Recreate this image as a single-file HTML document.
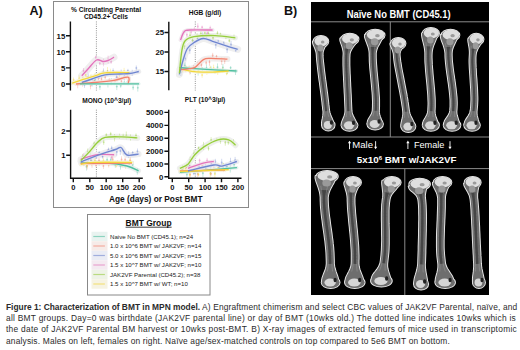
<!DOCTYPE html>
<html><head><meta charset="utf-8">
<style>
html,body{margin:0;padding:0;background:#fff;}
body{width:520px;height:350px;position:relative;overflow:hidden;font-family:"Liberation Sans",sans-serif;}
#cap{position:absolute;left:6px;top:302px;width:520px;font-size:8.4px;line-height:11.23px;color:#2a2a2a;white-space:nowrap;}
#cap div{height:11.23px;}
svg{position:absolute;left:0;top:0;}
</style></head>
<body>
<svg width="520" height="350" viewBox="0 0 520 350" font-family="Liberation Sans, sans-serif">
  <defs>
    <filter id="bl" x="-20%" y="-5%" width="140%" height="110%"><feGaussianBlur stdDeviation="0.45"/></filter>
    <filter id="bl2" x="-20%" y="-20%" width="140%" height="140%"><feGaussianBlur stdDeviation="0.3"/></filter>
  </defs>
  <!-- labels -->
  <text x="29.5" y="14.8" font-size="12.6" font-weight="bold" fill="#111">A)</text>
  <text x="284" y="14.8" font-size="12.6" font-weight="bold" fill="#111">B)</text>
  <!-- panel A box -->
  <rect x="53.5" y="1.5" width="195" height="206" fill="none" stroke="#8a8a8a" stroke-width="1"/>

  <!-- dotted lines -->
  <g stroke="#555" stroke-width="0.7" stroke-dasharray="0.9 1.3" fill="none">
    <path d="M96.4 21.5V90.5"/>
    <path d="M195.3 21.5V90.5"/>
    <path d="M96.4 109.7V178"/>
    <path d="M195.3 109.7V178"/>
  </g>

  <g filter="url(#bl2)">
<path d="M81.8 75.7 C82.8 74.6 85.5 71.6 88.0 69.0 C90.5 66.4 94.0 61.2 96.5 60.0 C99.0 58.8 101.1 61.4 103.0 61.5 C104.9 61.6 106.2 61.2 108.0 60.5 C109.8 59.8 113.0 57.8 114.0 57.2" fill="none" stroke="#efefef" stroke-width="7" stroke-linecap="round" stroke-linejoin="round"/>
<path d="M72.3 83.3 C73.9 82.7 77.8 81.1 81.8 79.8 C85.8 78.5 92.6 76.6 96.5 75.4 C100.4 74.2 99.5 73.3 105.0 72.8 C110.5 72.3 125.4 72.6 129.5 72.6" fill="none" stroke="#efefef" stroke-width="4" stroke-linecap="round" stroke-linejoin="round"/>
<path d="M81.8 82.5 C83.5 81.9 88.1 80.3 92.0 79.0 C95.9 77.7 100.3 75.6 105.0 74.8 C109.7 74.0 115.9 74.2 120.0 74.0 C124.1 73.8 126.4 73.9 129.5 73.5 C132.6 73.1 137.2 71.8 138.8 71.5" fill="none" stroke="#efefef" stroke-width="5" stroke-linecap="round" stroke-linejoin="round"/>
<path d="M76.0 84.0 C79.2 83.8 88.7 83.1 95.0 82.5 C101.3 81.9 108.5 81.2 114.0 80.3 C119.5 79.4 125.6 76.7 128.0 77.2 C130.4 77.7 128.2 82.5 128.2 83.5" fill="none" stroke="#efefef" stroke-width="4" stroke-linecap="round" stroke-linejoin="round"/>
<path d="M80.0 83.8 L139.0 83.8" fill="none" stroke="#efefef" stroke-width="2.5" stroke-linecap="round" stroke-linejoin="round"/>
<path d="M179.4 67.6 C181.9 67.8 184.8 68.1 194.3 68.7 C203.8 69.3 229.6 70.6 236.6 71.0" fill="none" stroke="#efefef" stroke-width="3" stroke-linecap="round" stroke-linejoin="round"/>
<path d="M179.4 68.7 C181.9 69.2 188.8 71.1 194.3 71.7 C199.8 72.3 206.9 72.2 212.6 72.1 C218.3 72.0 225.9 71.2 228.6 71.0" fill="none" stroke="#efefef" stroke-width="3" stroke-linecap="round" stroke-linejoin="round"/>
<path d="M179.4 69.8 C181.1 69.6 187.0 69.2 189.7 68.7 C192.4 68.2 193.1 68.6 195.4 67.1 C197.7 65.6 200.9 61.0 203.4 59.6 C205.9 58.2 206.3 58.5 210.3 58.4 C214.3 58.3 224.6 59.0 227.4 59.1" fill="none" stroke="#efefef" stroke-width="6" stroke-linecap="round" stroke-linejoin="round"/>
<path d="M179.4 74.4 C180.0 72.1 181.6 65.0 182.9 60.7 C184.2 56.4 185.5 51.5 187.4 48.5 C189.3 45.5 191.6 44.1 194.3 42.4 C197.0 40.7 200.4 38.7 203.4 38.5 C206.4 38.3 208.8 40.1 212.6 41.3 C216.4 42.5 222.1 44.6 226.3 45.9 C230.5 47.2 235.8 48.7 237.7 49.3" fill="none" stroke="#efefef" stroke-width="7" stroke-linecap="round" stroke-linejoin="round"/>
<path d="M179.4 73.3 C179.8 69.7 180.8 57.0 181.7 51.6 C182.6 46.2 182.9 43.5 185.0 41.0 C187.1 38.5 189.0 37.6 194.0 36.7 C199.0 35.8 208.1 35.4 215.0 35.6 C221.9 35.8 232.0 37.5 235.4 37.9" fill="none" stroke="#efefef" stroke-width="5" stroke-linecap="round" stroke-linejoin="round"/>
<path d="M180.5 40.0 C181.1 38.7 182.5 33.7 184.0 32.0 C185.5 30.3 184.9 30.3 189.7 30.0 C194.5 29.7 208.8 30.0 212.6 30.0" fill="none" stroke="#efefef" stroke-width="4" stroke-linecap="round" stroke-linejoin="round"/>
<path d="M80.7 163.0 C85.0 163.0 98.7 162.5 106.4 163.0 C114.1 163.5 121.6 164.7 127.0 166.0 C132.4 167.3 136.7 170.1 138.6 170.9" fill="none" stroke="#efefef" stroke-width="5" stroke-linecap="round" stroke-linejoin="round"/>
<path d="M80.7 163.5 L132.0 163.0" fill="none" stroke="#efefef" stroke-width="4" stroke-linecap="round" stroke-linejoin="round"/>
<path d="M80.7 164.4 C82.8 164.1 85.0 162.7 93.6 162.4 C102.2 162.1 125.7 162.4 132.1 162.4" fill="none" stroke="#efefef" stroke-width="4" stroke-linecap="round" stroke-linejoin="round"/>
<path d="M80.7 159.3 C83.5 158.5 91.8 155.5 97.4 154.7 C103.0 153.9 111.3 154.7 114.1 154.7" fill="none" stroke="#efefef" stroke-width="6" stroke-linecap="round" stroke-linejoin="round"/>
<path d="M80.7 161.9 C83.5 160.8 91.6 157.5 97.4 155.4 C103.2 153.3 111.5 150.8 115.4 149.5 C119.3 148.2 119.1 146.6 121.0 147.5 C122.9 148.4 124.1 153.9 127.0 155.0 C129.9 156.1 136.7 154.2 138.6 154.1" fill="none" stroke="#efefef" stroke-width="6" stroke-linecap="round" stroke-linejoin="round"/>
<path d="M80.7 160.6 C82.0 159.3 85.6 155.9 88.4 152.9 C91.2 149.9 94.6 145.2 97.4 142.6 C100.2 140.0 101.0 138.3 105.1 137.4 C109.2 136.5 116.5 136.8 121.9 136.9 C127.3 137.0 134.7 137.7 137.3 137.9" fill="none" stroke="#efefef" stroke-width="6" stroke-linecap="round" stroke-linejoin="round"/>
<path d="M179.9 172.4 L236.9 167.7" fill="none" stroke="#efefef" stroke-width="3" stroke-linecap="round" stroke-linejoin="round"/>
<path d="M179.9 171.0 L225.0 170.0" fill="none" stroke="#efefef" stroke-width="3" stroke-linecap="round" stroke-linejoin="round"/>
<path d="M179.9 171.5 L228.7 169.6" fill="none" stroke="#efefef" stroke-width="3" stroke-linecap="round" stroke-linejoin="round"/>
<path d="M188.0 171.0 C192.3 170.0 208.1 165.8 213.8 165.0 C219.5 164.2 218.2 166.7 222.0 166.1 C225.8 165.5 234.4 162.3 236.9 161.5" fill="none" stroke="#efefef" stroke-width="5" stroke-linecap="round" stroke-linejoin="round"/>
<path d="M188.0 168.3 C190.7 167.4 200.0 164.0 204.3 162.9 C208.6 161.8 212.2 161.7 213.8 161.5" fill="none" stroke="#efefef" stroke-width="4" stroke-linecap="round" stroke-linejoin="round"/>
<path d="M179.9 168.3 C181.2 167.6 185.5 166.5 188.0 164.2 C190.5 161.9 192.1 157.6 194.8 154.7 C197.5 151.8 200.5 149.1 204.3 146.6 C208.2 144.1 213.8 140.9 217.9 139.8 C222.0 138.7 225.8 138.9 228.7 139.8 C231.6 140.7 234.4 144.3 235.5 145.2" fill="none" stroke="#efefef" stroke-width="6" stroke-linecap="round" stroke-linejoin="round"/>
<path d="M83.5 68.0V74.2" stroke="#e274bb" stroke-width="0.8" opacity="0.4"/>
<circle cx="83.5" cy="71.1" r="1" fill="#e274bb" opacity="0.4"/>
<path d="M87.0 68.0V72.8" stroke="#e274bb" stroke-width="0.8" opacity="0.4"/>
<circle cx="87.0" cy="70.4" r="1" fill="#e274bb" opacity="0.4"/>
<path d="M91.0 64.3V67.5" stroke="#e274bb" stroke-width="0.8" opacity="0.4"/>
<circle cx="91.0" cy="65.9" r="1" fill="#e274bb" opacity="0.4"/>
<path d="M95.8 55.6V59.1" stroke="#e274bb" stroke-width="0.8" opacity="0.4"/>
<circle cx="95.8" cy="57.3" r="1" fill="#e274bb" opacity="0.4"/>
<path d="M99.8 61.6V65.2" stroke="#e274bb" stroke-width="0.8" opacity="0.4"/>
<circle cx="99.8" cy="63.4" r="1" fill="#e274bb" opacity="0.4"/>
<path d="M103.4 58.6V66.3" stroke="#e274bb" stroke-width="0.8" opacity="0.4"/>
<circle cx="103.4" cy="62.4" r="1" fill="#e274bb" opacity="0.4"/>
<path d="M108.1 55.7V63.5" stroke="#e274bb" stroke-width="0.8" opacity="0.4"/>
<circle cx="108.1" cy="59.6" r="1" fill="#e274bb" opacity="0.4"/>
<path d="M111.1 59.4V63.9" stroke="#e274bb" stroke-width="0.8" opacity="0.4"/>
<circle cx="111.1" cy="61.7" r="1" fill="#e274bb" opacity="0.4"/>
<path d="M73.6 77.5V82.0" stroke="#f2d63a" stroke-width="0.8" opacity="0.4"/>
<circle cx="73.6" cy="79.8" r="1" fill="#f2d63a" opacity="0.4"/>
<path d="M79.1 75.3V81.2" stroke="#f2d63a" stroke-width="0.8" opacity="0.4"/>
<circle cx="79.1" cy="78.3" r="1" fill="#f2d63a" opacity="0.4"/>
<path d="M82.8 75.6V81.4" stroke="#f2d63a" stroke-width="0.8" opacity="0.4"/>
<circle cx="82.8" cy="78.5" r="1" fill="#f2d63a" opacity="0.4"/>
<path d="M85.7 73.1V77.1" stroke="#f2d63a" stroke-width="0.8" opacity="0.4"/>
<circle cx="85.7" cy="75.1" r="1" fill="#f2d63a" opacity="0.4"/>
<path d="M91.0 74.2V78.7" stroke="#f2d63a" stroke-width="0.8" opacity="0.4"/>
<circle cx="91.0" cy="76.5" r="1" fill="#f2d63a" opacity="0.4"/>
<path d="M94.9 73.2V77.7" stroke="#f2d63a" stroke-width="0.8" opacity="0.4"/>
<circle cx="94.9" cy="75.5" r="1" fill="#f2d63a" opacity="0.4"/>
<path d="M99.4 74.0V78.2" stroke="#f2d63a" stroke-width="0.8" opacity="0.4"/>
<circle cx="99.4" cy="76.1" r="1" fill="#f2d63a" opacity="0.4"/>
<path d="M103.1 69.9V77.3" stroke="#f2d63a" stroke-width="0.8" opacity="0.4"/>
<circle cx="103.1" cy="73.6" r="1" fill="#f2d63a" opacity="0.4"/>
<path d="M107.5 67.1V75.0" stroke="#f2d63a" stroke-width="0.8" opacity="0.4"/>
<circle cx="107.5" cy="71.1" r="1" fill="#f2d63a" opacity="0.4"/>
<path d="M110.4 68.7V75.5" stroke="#f2d63a" stroke-width="0.8" opacity="0.4"/>
<circle cx="110.4" cy="72.1" r="1" fill="#f2d63a" opacity="0.4"/>
<path d="M114.5 71.0V74.2" stroke="#f2d63a" stroke-width="0.8" opacity="0.4"/>
<circle cx="114.5" cy="72.6" r="1" fill="#f2d63a" opacity="0.4"/>
<path d="M119.6 71.9V77.7" stroke="#f2d63a" stroke-width="0.8" opacity="0.4"/>
<circle cx="119.6" cy="74.8" r="1" fill="#f2d63a" opacity="0.4"/>
<path d="M124.1 67.9V74.4" stroke="#f2d63a" stroke-width="0.8" opacity="0.4"/>
<circle cx="124.1" cy="71.2" r="1" fill="#f2d63a" opacity="0.4"/>
<path d="M127.6 70.6V75.9" stroke="#f2d63a" stroke-width="0.8" opacity="0.4"/>
<circle cx="127.6" cy="73.3" r="1" fill="#f2d63a" opacity="0.4"/>
<path d="M84.5 82.4V87.8" stroke="#6f86cf" stroke-width="0.8" opacity="0.4"/>
<circle cx="84.5" cy="85.1" r="1" fill="#6f86cf" opacity="0.4"/>
<path d="M88.2 73.5V80.0" stroke="#6f86cf" stroke-width="0.8" opacity="0.4"/>
<circle cx="88.2" cy="76.8" r="1" fill="#6f86cf" opacity="0.4"/>
<path d="M92.3 79.3V86.4" stroke="#6f86cf" stroke-width="0.8" opacity="0.4"/>
<circle cx="92.3" cy="82.9" r="1" fill="#6f86cf" opacity="0.4"/>
<path d="M95.6 73.7V80.1" stroke="#6f86cf" stroke-width="0.8" opacity="0.4"/>
<circle cx="95.6" cy="76.9" r="1" fill="#6f86cf" opacity="0.4"/>
<path d="M99.2 74.5V78.3" stroke="#6f86cf" stroke-width="0.8" opacity="0.4"/>
<circle cx="99.2" cy="76.4" r="1" fill="#6f86cf" opacity="0.4"/>
<path d="M103.4 68.4V75.2" stroke="#6f86cf" stroke-width="0.8" opacity="0.4"/>
<circle cx="103.4" cy="71.8" r="1" fill="#6f86cf" opacity="0.4"/>
<path d="M107.5 70.2V75.1" stroke="#6f86cf" stroke-width="0.8" opacity="0.4"/>
<circle cx="107.5" cy="72.6" r="1" fill="#6f86cf" opacity="0.4"/>
<path d="M113.1 68.4V73.6" stroke="#6f86cf" stroke-width="0.8" opacity="0.4"/>
<circle cx="113.1" cy="71.0" r="1" fill="#6f86cf" opacity="0.4"/>
<path d="M116.5 73.7V80.8" stroke="#6f86cf" stroke-width="0.8" opacity="0.4"/>
<circle cx="116.5" cy="77.3" r="1" fill="#6f86cf" opacity="0.4"/>
<path d="M121.2 69.6V74.7" stroke="#6f86cf" stroke-width="0.8" opacity="0.4"/>
<circle cx="121.2" cy="72.2" r="1" fill="#6f86cf" opacity="0.4"/>
<path d="M124.3 73.0V80.7" stroke="#6f86cf" stroke-width="0.8" opacity="0.4"/>
<circle cx="124.3" cy="76.8" r="1" fill="#6f86cf" opacity="0.4"/>
<path d="M127.9 68.9V73.1" stroke="#6f86cf" stroke-width="0.8" opacity="0.4"/>
<circle cx="127.9" cy="71.0" r="1" fill="#6f86cf" opacity="0.4"/>
<path d="M132.2 69.8V75.8" stroke="#6f86cf" stroke-width="0.8" opacity="0.4"/>
<circle cx="132.2" cy="72.8" r="1" fill="#6f86cf" opacity="0.4"/>
<path d="M136.3 65.5V70.6" stroke="#6f86cf" stroke-width="0.8" opacity="0.4"/>
<circle cx="136.3" cy="68.1" r="1" fill="#6f86cf" opacity="0.4"/>
<path d="M77.7 80.5V88.3" stroke="#f0826e" stroke-width="0.8" opacity="0.4"/>
<circle cx="77.7" cy="84.4" r="1" fill="#f0826e" opacity="0.4"/>
<path d="M82.4 80.6V86.7" stroke="#f0826e" stroke-width="0.8" opacity="0.4"/>
<circle cx="82.4" cy="83.6" r="1" fill="#f0826e" opacity="0.4"/>
<path d="M86.4 75.9V83.4" stroke="#f0826e" stroke-width="0.8" opacity="0.4"/>
<circle cx="86.4" cy="79.6" r="1" fill="#f0826e" opacity="0.4"/>
<path d="M90.6 82.3V89.3" stroke="#f0826e" stroke-width="0.8" opacity="0.4"/>
<circle cx="90.6" cy="85.8" r="1" fill="#f0826e" opacity="0.4"/>
<path d="M93.9 80.0V83.5" stroke="#f0826e" stroke-width="0.8" opacity="0.4"/>
<circle cx="93.9" cy="81.8" r="1" fill="#f0826e" opacity="0.4"/>
<path d="M98.4 76.9V80.3" stroke="#f0826e" stroke-width="0.8" opacity="0.4"/>
<circle cx="98.4" cy="78.6" r="1" fill="#f0826e" opacity="0.4"/>
<path d="M101.5 76.7V81.4" stroke="#f0826e" stroke-width="0.8" opacity="0.4"/>
<circle cx="101.5" cy="79.0" r="1" fill="#f0826e" opacity="0.4"/>
<path d="M105.2 75.4V79.2" stroke="#f0826e" stroke-width="0.8" opacity="0.4"/>
<circle cx="105.2" cy="77.3" r="1" fill="#f0826e" opacity="0.4"/>
<path d="M109.3 78.2V81.3" stroke="#f0826e" stroke-width="0.8" opacity="0.4"/>
<circle cx="109.3" cy="79.7" r="1" fill="#f0826e" opacity="0.4"/>
<path d="M114.9 79.1V82.9" stroke="#f0826e" stroke-width="0.8" opacity="0.4"/>
<circle cx="114.9" cy="81.0" r="1" fill="#f0826e" opacity="0.4"/>
<path d="M117.7 75.9V80.7" stroke="#f0826e" stroke-width="0.8" opacity="0.4"/>
<circle cx="117.7" cy="78.3" r="1" fill="#f0826e" opacity="0.4"/>
<path d="M121.4 77.5V85.4" stroke="#f0826e" stroke-width="0.8" opacity="0.4"/>
<circle cx="121.4" cy="81.4" r="1" fill="#f0826e" opacity="0.4"/>
<path d="M126.1 75.8V79.2" stroke="#f0826e" stroke-width="0.8" opacity="0.4"/>
<circle cx="126.1" cy="77.5" r="1" fill="#f0826e" opacity="0.4"/>
<path d="M81.3 80.4V84.7" stroke="#4fbf9f" stroke-width="0.8" opacity="0.4"/>
<circle cx="81.3" cy="82.5" r="1" fill="#4fbf9f" opacity="0.4"/>
<path d="M87.0 79.5V82.6" stroke="#4fbf9f" stroke-width="0.8" opacity="0.4"/>
<circle cx="87.0" cy="81.1" r="1" fill="#4fbf9f" opacity="0.4"/>
<path d="M91.4 82.2V85.9" stroke="#4fbf9f" stroke-width="0.8" opacity="0.4"/>
<circle cx="91.4" cy="84.0" r="1" fill="#4fbf9f" opacity="0.4"/>
<path d="M94.8 77.2V82.8" stroke="#4fbf9f" stroke-width="0.8" opacity="0.4"/>
<circle cx="94.8" cy="80.0" r="1" fill="#4fbf9f" opacity="0.4"/>
<path d="M99.9 83.5V89.9" stroke="#4fbf9f" stroke-width="0.8" opacity="0.4"/>
<circle cx="99.9" cy="86.7" r="1" fill="#4fbf9f" opacity="0.4"/>
<path d="M102.7 80.8V84.7" stroke="#4fbf9f" stroke-width="0.8" opacity="0.4"/>
<circle cx="102.7" cy="82.7" r="1" fill="#4fbf9f" opacity="0.4"/>
<path d="M107.9 80.6V87.5" stroke="#4fbf9f" stroke-width="0.8" opacity="0.4"/>
<circle cx="107.9" cy="84.1" r="1" fill="#4fbf9f" opacity="0.4"/>
<path d="M111.3 78.1V85.1" stroke="#4fbf9f" stroke-width="0.8" opacity="0.4"/>
<circle cx="111.3" cy="81.6" r="1" fill="#4fbf9f" opacity="0.4"/>
<path d="M116.8 83.1V90.1" stroke="#4fbf9f" stroke-width="0.8" opacity="0.4"/>
<circle cx="116.8" cy="86.6" r="1" fill="#4fbf9f" opacity="0.4"/>
<path d="M120.7 83.7V87.8" stroke="#4fbf9f" stroke-width="0.8" opacity="0.4"/>
<circle cx="120.7" cy="85.7" r="1" fill="#4fbf9f" opacity="0.4"/>
<path d="M124.3 81.1V84.2" stroke="#4fbf9f" stroke-width="0.8" opacity="0.4"/>
<circle cx="124.3" cy="82.6" r="1" fill="#4fbf9f" opacity="0.4"/>
<path d="M127.5 79.9V84.2" stroke="#4fbf9f" stroke-width="0.8" opacity="0.4"/>
<circle cx="127.5" cy="82.0" r="1" fill="#4fbf9f" opacity="0.4"/>
<path d="M133.1 84.8V90.1" stroke="#4fbf9f" stroke-width="0.8" opacity="0.4"/>
<circle cx="133.1" cy="87.5" r="1" fill="#4fbf9f" opacity="0.4"/>
<path d="M137.8 83.8V91.6" stroke="#4fbf9f" stroke-width="0.8" opacity="0.4"/>
<circle cx="137.8" cy="87.7" r="1" fill="#4fbf9f" opacity="0.4"/>
<path d="M181.2 63.4V67.6" stroke="#4fbf9f" stroke-width="0.8" opacity="0.4"/>
<circle cx="181.2" cy="65.5" r="1" fill="#4fbf9f" opacity="0.4"/>
<path d="M184.9 62.6V68.7" stroke="#4fbf9f" stroke-width="0.8" opacity="0.4"/>
<circle cx="184.9" cy="65.6" r="1" fill="#4fbf9f" opacity="0.4"/>
<path d="M190.4 68.4V73.8" stroke="#4fbf9f" stroke-width="0.8" opacity="0.4"/>
<circle cx="190.4" cy="71.1" r="1" fill="#4fbf9f" opacity="0.4"/>
<path d="M194.0 69.4V72.8" stroke="#4fbf9f" stroke-width="0.8" opacity="0.4"/>
<circle cx="194.0" cy="71.1" r="1" fill="#4fbf9f" opacity="0.4"/>
<path d="M198.1 68.7V75.6" stroke="#4fbf9f" stroke-width="0.8" opacity="0.4"/>
<circle cx="198.1" cy="72.2" r="1" fill="#4fbf9f" opacity="0.4"/>
<path d="M202.4 67.0V70.9" stroke="#4fbf9f" stroke-width="0.8" opacity="0.4"/>
<circle cx="202.4" cy="69.0" r="1" fill="#4fbf9f" opacity="0.4"/>
<path d="M206.5 64.5V71.5" stroke="#4fbf9f" stroke-width="0.8" opacity="0.4"/>
<circle cx="206.5" cy="68.0" r="1" fill="#4fbf9f" opacity="0.4"/>
<path d="M211.0 66.3V71.3" stroke="#4fbf9f" stroke-width="0.8" opacity="0.4"/>
<circle cx="211.0" cy="68.8" r="1" fill="#4fbf9f" opacity="0.4"/>
<path d="M215.0 69.7V73.6" stroke="#4fbf9f" stroke-width="0.8" opacity="0.4"/>
<circle cx="215.0" cy="71.6" r="1" fill="#4fbf9f" opacity="0.4"/>
<path d="M217.5 63.4V70.9" stroke="#4fbf9f" stroke-width="0.8" opacity="0.4"/>
<circle cx="217.5" cy="67.2" r="1" fill="#4fbf9f" opacity="0.4"/>
<path d="M222.9 63.9V71.0" stroke="#4fbf9f" stroke-width="0.8" opacity="0.4"/>
<circle cx="222.9" cy="67.4" r="1" fill="#4fbf9f" opacity="0.4"/>
<path d="M227.3 69.4V74.1" stroke="#4fbf9f" stroke-width="0.8" opacity="0.4"/>
<circle cx="227.3" cy="71.8" r="1" fill="#4fbf9f" opacity="0.4"/>
<path d="M230.6 66.2V69.3" stroke="#4fbf9f" stroke-width="0.8" opacity="0.4"/>
<circle cx="230.6" cy="67.7" r="1" fill="#4fbf9f" opacity="0.4"/>
<path d="M235.5 69.3V75.0" stroke="#4fbf9f" stroke-width="0.8" opacity="0.4"/>
<circle cx="235.5" cy="72.1" r="1" fill="#4fbf9f" opacity="0.4"/>
<path d="M182.3 65.1V72.4" stroke="#f2d63a" stroke-width="0.8" opacity="0.4"/>
<circle cx="182.3" cy="68.8" r="1" fill="#f2d63a" opacity="0.4"/>
<path d="M186.2 65.6V69.9" stroke="#f2d63a" stroke-width="0.8" opacity="0.4"/>
<circle cx="186.2" cy="67.8" r="1" fill="#f2d63a" opacity="0.4"/>
<path d="M189.2 65.6V71.6" stroke="#f2d63a" stroke-width="0.8" opacity="0.4"/>
<circle cx="189.2" cy="68.6" r="1" fill="#f2d63a" opacity="0.4"/>
<path d="M193.3 69.0V72.7" stroke="#f2d63a" stroke-width="0.8" opacity="0.4"/>
<circle cx="193.3" cy="70.8" r="1" fill="#f2d63a" opacity="0.4"/>
<path d="M198.7 68.0V73.3" stroke="#f2d63a" stroke-width="0.8" opacity="0.4"/>
<circle cx="198.7" cy="70.6" r="1" fill="#f2d63a" opacity="0.4"/>
<path d="M202.1 72.6V77.7" stroke="#f2d63a" stroke-width="0.8" opacity="0.4"/>
<circle cx="202.1" cy="75.1" r="1" fill="#f2d63a" opacity="0.4"/>
<path d="M206.9 69.2V74.8" stroke="#f2d63a" stroke-width="0.8" opacity="0.4"/>
<circle cx="206.9" cy="72.0" r="1" fill="#f2d63a" opacity="0.4"/>
<path d="M210.2 65.6V70.8" stroke="#f2d63a" stroke-width="0.8" opacity="0.4"/>
<circle cx="210.2" cy="68.2" r="1" fill="#f2d63a" opacity="0.4"/>
<path d="M213.6 64.6V71.6" stroke="#f2d63a" stroke-width="0.8" opacity="0.4"/>
<circle cx="213.6" cy="68.1" r="1" fill="#f2d63a" opacity="0.4"/>
<path d="M217.7 68.2V74.9" stroke="#f2d63a" stroke-width="0.8" opacity="0.4"/>
<circle cx="217.7" cy="71.5" r="1" fill="#f2d63a" opacity="0.4"/>
<path d="M222.6 67.2V72.8" stroke="#f2d63a" stroke-width="0.8" opacity="0.4"/>
<circle cx="222.6" cy="70.0" r="1" fill="#f2d63a" opacity="0.4"/>
<path d="M226.7 71.6V75.2" stroke="#f2d63a" stroke-width="0.8" opacity="0.4"/>
<circle cx="226.7" cy="73.4" r="1" fill="#f2d63a" opacity="0.4"/>
<path d="M181.5 65.4V69.8" stroke="#f0826e" stroke-width="0.8" opacity="0.4"/>
<circle cx="181.5" cy="67.6" r="1" fill="#f0826e" opacity="0.4"/>
<path d="M185.9 66.3V72.1" stroke="#f0826e" stroke-width="0.8" opacity="0.4"/>
<circle cx="185.9" cy="69.2" r="1" fill="#f0826e" opacity="0.4"/>
<path d="M189.9 69.3V74.5" stroke="#f0826e" stroke-width="0.8" opacity="0.4"/>
<circle cx="189.9" cy="71.9" r="1" fill="#f0826e" opacity="0.4"/>
<path d="M193.6 64.9V70.4" stroke="#f0826e" stroke-width="0.8" opacity="0.4"/>
<circle cx="193.6" cy="67.6" r="1" fill="#f0826e" opacity="0.4"/>
<path d="M197.8 61.6V67.3" stroke="#f0826e" stroke-width="0.8" opacity="0.4"/>
<circle cx="197.8" cy="64.5" r="1" fill="#f0826e" opacity="0.4"/>
<path d="M201.4 61.8V68.3" stroke="#f0826e" stroke-width="0.8" opacity="0.4"/>
<circle cx="201.4" cy="65.0" r="1" fill="#f0826e" opacity="0.4"/>
<path d="M206.2 60.5V64.8" stroke="#f0826e" stroke-width="0.8" opacity="0.4"/>
<circle cx="206.2" cy="62.7" r="1" fill="#f0826e" opacity="0.4"/>
<path d="M209.5 58.5V65.7" stroke="#f0826e" stroke-width="0.8" opacity="0.4"/>
<circle cx="209.5" cy="62.1" r="1" fill="#f0826e" opacity="0.4"/>
<path d="M212.7 52.9V58.1" stroke="#f0826e" stroke-width="0.8" opacity="0.4"/>
<circle cx="212.7" cy="55.5" r="1" fill="#f0826e" opacity="0.4"/>
<path d="M216.5 54.9V58.3" stroke="#f0826e" stroke-width="0.8" opacity="0.4"/>
<circle cx="216.5" cy="56.6" r="1" fill="#f0826e" opacity="0.4"/>
<path d="M221.7 57.4V64.9" stroke="#f0826e" stroke-width="0.8" opacity="0.4"/>
<circle cx="221.7" cy="61.1" r="1" fill="#f0826e" opacity="0.4"/>
<path d="M224.7 57.6V63.9" stroke="#f0826e" stroke-width="0.8" opacity="0.4"/>
<circle cx="224.7" cy="60.7" r="1" fill="#f0826e" opacity="0.4"/>
<path d="M180.8 68.2V76.0" stroke="#6f86cf" stroke-width="0.8" opacity="0.4"/>
<circle cx="180.8" cy="72.1" r="1" fill="#6f86cf" opacity="0.4"/>
<path d="M185.1 55.9V60.9" stroke="#6f86cf" stroke-width="0.8" opacity="0.4"/>
<circle cx="185.1" cy="58.4" r="1" fill="#6f86cf" opacity="0.4"/>
<path d="M189.8 46.7V53.9" stroke="#6f86cf" stroke-width="0.8" opacity="0.4"/>
<circle cx="189.8" cy="50.3" r="1" fill="#6f86cf" opacity="0.4"/>
<path d="M193.3 39.9V45.5" stroke="#6f86cf" stroke-width="0.8" opacity="0.4"/>
<circle cx="193.3" cy="42.7" r="1" fill="#6f86cf" opacity="0.4"/>
<path d="M197.8 36.2V40.8" stroke="#6f86cf" stroke-width="0.8" opacity="0.4"/>
<circle cx="197.8" cy="38.5" r="1" fill="#6f86cf" opacity="0.4"/>
<path d="M202.7 32.1V37.8" stroke="#6f86cf" stroke-width="0.8" opacity="0.4"/>
<circle cx="202.7" cy="34.9" r="1" fill="#6f86cf" opacity="0.4"/>
<path d="M206.3 33.2V37.9" stroke="#6f86cf" stroke-width="0.8" opacity="0.4"/>
<circle cx="206.3" cy="35.5" r="1" fill="#6f86cf" opacity="0.4"/>
<path d="M210.9 39.2V42.5" stroke="#6f86cf" stroke-width="0.8" opacity="0.4"/>
<circle cx="210.9" cy="40.9" r="1" fill="#6f86cf" opacity="0.4"/>
<path d="M215.8 40.7V48.6" stroke="#6f86cf" stroke-width="0.8" opacity="0.4"/>
<circle cx="215.8" cy="44.7" r="1" fill="#6f86cf" opacity="0.4"/>
<path d="M218.2 39.7V42.9" stroke="#6f86cf" stroke-width="0.8" opacity="0.4"/>
<circle cx="218.2" cy="41.3" r="1" fill="#6f86cf" opacity="0.4"/>
<path d="M223.7 41.4V45.0" stroke="#6f86cf" stroke-width="0.8" opacity="0.4"/>
<circle cx="223.7" cy="43.2" r="1" fill="#6f86cf" opacity="0.4"/>
<path d="M227.1 45.9V53.0" stroke="#6f86cf" stroke-width="0.8" opacity="0.4"/>
<circle cx="227.1" cy="49.4" r="1" fill="#6f86cf" opacity="0.4"/>
<path d="M231.0 40.7V48.3" stroke="#6f86cf" stroke-width="0.8" opacity="0.4"/>
<circle cx="231.0" cy="44.5" r="1" fill="#6f86cf" opacity="0.4"/>
<path d="M235.8 48.6V52.0" stroke="#6f86cf" stroke-width="0.8" opacity="0.4"/>
<circle cx="235.8" cy="50.3" r="1" fill="#6f86cf" opacity="0.4"/>
<path d="M180.5 61.7V66.8" stroke="#96cc3e" stroke-width="0.8" opacity="0.4"/>
<circle cx="180.5" cy="64.3" r="1" fill="#96cc3e" opacity="0.4"/>
<path d="M184.5 42.9V49.1" stroke="#96cc3e" stroke-width="0.8" opacity="0.4"/>
<circle cx="184.5" cy="46.0" r="1" fill="#96cc3e" opacity="0.4"/>
<path d="M190.0 31.6V38.9" stroke="#96cc3e" stroke-width="0.8" opacity="0.4"/>
<circle cx="190.0" cy="35.3" r="1" fill="#96cc3e" opacity="0.4"/>
<path d="M192.5 37.7V42.9" stroke="#96cc3e" stroke-width="0.8" opacity="0.4"/>
<circle cx="192.5" cy="40.3" r="1" fill="#96cc3e" opacity="0.4"/>
<path d="M197.1 33.1V40.8" stroke="#96cc3e" stroke-width="0.8" opacity="0.4"/>
<circle cx="197.1" cy="37.0" r="1" fill="#96cc3e" opacity="0.4"/>
<path d="M200.9 30.6V36.2" stroke="#96cc3e" stroke-width="0.8" opacity="0.4"/>
<circle cx="200.9" cy="33.4" r="1" fill="#96cc3e" opacity="0.4"/>
<path d="M204.9 31.1V34.9" stroke="#96cc3e" stroke-width="0.8" opacity="0.4"/>
<circle cx="204.9" cy="33.0" r="1" fill="#96cc3e" opacity="0.4"/>
<path d="M208.5 31.3V35.8" stroke="#96cc3e" stroke-width="0.8" opacity="0.4"/>
<circle cx="208.5" cy="33.6" r="1" fill="#96cc3e" opacity="0.4"/>
<path d="M213.0 35.6V40.0" stroke="#96cc3e" stroke-width="0.8" opacity="0.4"/>
<circle cx="213.0" cy="37.8" r="1" fill="#96cc3e" opacity="0.4"/>
<path d="M217.4 30.9V35.7" stroke="#96cc3e" stroke-width="0.8" opacity="0.4"/>
<circle cx="217.4" cy="33.3" r="1" fill="#96cc3e" opacity="0.4"/>
<path d="M220.4 32.7V35.8" stroke="#96cc3e" stroke-width="0.8" opacity="0.4"/>
<circle cx="220.4" cy="34.2" r="1" fill="#96cc3e" opacity="0.4"/>
<path d="M225.9 35.3V39.2" stroke="#96cc3e" stroke-width="0.8" opacity="0.4"/>
<circle cx="225.9" cy="37.2" r="1" fill="#96cc3e" opacity="0.4"/>
<path d="M229.3 38.9V42.5" stroke="#96cc3e" stroke-width="0.8" opacity="0.4"/>
<circle cx="229.3" cy="40.7" r="1" fill="#96cc3e" opacity="0.4"/>
<path d="M234.0 34.5V39.9" stroke="#96cc3e" stroke-width="0.8" opacity="0.4"/>
<circle cx="234.0" cy="37.2" r="1" fill="#96cc3e" opacity="0.4"/>
<path d="M183.2 30.3V35.8" stroke="#e274bb" stroke-width="0.8" opacity="0.4"/>
<circle cx="183.2" cy="33.0" r="1" fill="#e274bb" opacity="0.4"/>
<path d="M186.9 32.5V37.2" stroke="#e274bb" stroke-width="0.8" opacity="0.4"/>
<circle cx="186.9" cy="34.8" r="1" fill="#e274bb" opacity="0.4"/>
<path d="M191.2 28.6V34.7" stroke="#e274bb" stroke-width="0.8" opacity="0.4"/>
<circle cx="191.2" cy="31.7" r="1" fill="#e274bb" opacity="0.4"/>
<path d="M194.4 27.1V30.4" stroke="#e274bb" stroke-width="0.8" opacity="0.4"/>
<circle cx="194.4" cy="28.8" r="1" fill="#e274bb" opacity="0.4"/>
<path d="M197.8 23.2V29.9" stroke="#e274bb" stroke-width="0.8" opacity="0.4"/>
<circle cx="197.8" cy="26.6" r="1" fill="#e274bb" opacity="0.4"/>
<path d="M202.1 25.6V29.0" stroke="#e274bb" stroke-width="0.8" opacity="0.4"/>
<circle cx="202.1" cy="27.3" r="1" fill="#e274bb" opacity="0.4"/>
<path d="M207.3 29.8V36.1" stroke="#e274bb" stroke-width="0.8" opacity="0.4"/>
<circle cx="207.3" cy="33.0" r="1" fill="#e274bb" opacity="0.4"/>
<path d="M210.2 25.7V30.2" stroke="#e274bb" stroke-width="0.8" opacity="0.4"/>
<circle cx="210.2" cy="27.9" r="1" fill="#e274bb" opacity="0.4"/>
<path d="M82.7 157.6V162.9" stroke="#4fbf9f" stroke-width="0.8" opacity="0.4"/>
<circle cx="82.7" cy="160.3" r="1" fill="#4fbf9f" opacity="0.4"/>
<path d="M86.4 162.8V170.6" stroke="#4fbf9f" stroke-width="0.8" opacity="0.4"/>
<circle cx="86.4" cy="166.7" r="1" fill="#4fbf9f" opacity="0.4"/>
<path d="M91.1 157.0V164.9" stroke="#4fbf9f" stroke-width="0.8" opacity="0.4"/>
<circle cx="91.1" cy="161.0" r="1" fill="#4fbf9f" opacity="0.4"/>
<path d="M94.8 160.3V163.4" stroke="#4fbf9f" stroke-width="0.8" opacity="0.4"/>
<circle cx="94.8" cy="161.9" r="1" fill="#4fbf9f" opacity="0.4"/>
<path d="M99.1 160.0V165.6" stroke="#4fbf9f" stroke-width="0.8" opacity="0.4"/>
<circle cx="99.1" cy="162.8" r="1" fill="#4fbf9f" opacity="0.4"/>
<path d="M102.8 161.5V164.6" stroke="#4fbf9f" stroke-width="0.8" opacity="0.4"/>
<circle cx="102.8" cy="163.0" r="1" fill="#4fbf9f" opacity="0.4"/>
<path d="M107.1 157.3V162.3" stroke="#4fbf9f" stroke-width="0.8" opacity="0.4"/>
<circle cx="107.1" cy="159.8" r="1" fill="#4fbf9f" opacity="0.4"/>
<path d="M110.8 157.6V162.1" stroke="#4fbf9f" stroke-width="0.8" opacity="0.4"/>
<circle cx="110.8" cy="159.8" r="1" fill="#4fbf9f" opacity="0.4"/>
<path d="M115.3 162.2V167.8" stroke="#4fbf9f" stroke-width="0.8" opacity="0.4"/>
<circle cx="115.3" cy="165.0" r="1" fill="#4fbf9f" opacity="0.4"/>
<path d="M120.5 163.0V169.6" stroke="#4fbf9f" stroke-width="0.8" opacity="0.4"/>
<circle cx="120.5" cy="166.3" r="1" fill="#4fbf9f" opacity="0.4"/>
<path d="M124.9 162.5V167.1" stroke="#4fbf9f" stroke-width="0.8" opacity="0.4"/>
<circle cx="124.9" cy="164.8" r="1" fill="#4fbf9f" opacity="0.4"/>
<path d="M129.2 160.8V167.4" stroke="#4fbf9f" stroke-width="0.8" opacity="0.4"/>
<circle cx="129.2" cy="164.1" r="1" fill="#4fbf9f" opacity="0.4"/>
<path d="M132.7 161.2V168.3" stroke="#4fbf9f" stroke-width="0.8" opacity="0.4"/>
<circle cx="132.7" cy="164.8" r="1" fill="#4fbf9f" opacity="0.4"/>
<path d="M137.3 168.0V174.7" stroke="#4fbf9f" stroke-width="0.8" opacity="0.4"/>
<circle cx="137.3" cy="171.4" r="1" fill="#4fbf9f" opacity="0.4"/>
<path d="M83.5 157.8V163.4" stroke="#f0826e" stroke-width="0.8" opacity="0.4"/>
<circle cx="83.5" cy="160.6" r="1" fill="#f0826e" opacity="0.4"/>
<path d="M87.1 162.6V169.6" stroke="#f0826e" stroke-width="0.8" opacity="0.4"/>
<circle cx="87.1" cy="166.1" r="1" fill="#f0826e" opacity="0.4"/>
<path d="M92.0 160.3V167.8" stroke="#f0826e" stroke-width="0.8" opacity="0.4"/>
<circle cx="92.0" cy="164.1" r="1" fill="#f0826e" opacity="0.4"/>
<path d="M96.0 162.8V167.0" stroke="#f0826e" stroke-width="0.8" opacity="0.4"/>
<circle cx="96.0" cy="164.9" r="1" fill="#f0826e" opacity="0.4"/>
<path d="M99.0 158.0V162.8" stroke="#f0826e" stroke-width="0.8" opacity="0.4"/>
<circle cx="99.0" cy="160.4" r="1" fill="#f0826e" opacity="0.4"/>
<path d="M103.4 163.1V168.9" stroke="#f0826e" stroke-width="0.8" opacity="0.4"/>
<circle cx="103.4" cy="166.0" r="1" fill="#f0826e" opacity="0.4"/>
<path d="M108.7 161.0V167.4" stroke="#f0826e" stroke-width="0.8" opacity="0.4"/>
<circle cx="108.7" cy="164.2" r="1" fill="#f0826e" opacity="0.4"/>
<path d="M112.7 155.7V162.7" stroke="#f0826e" stroke-width="0.8" opacity="0.4"/>
<circle cx="112.7" cy="159.2" r="1" fill="#f0826e" opacity="0.4"/>
<path d="M117.5 160.3V166.0" stroke="#f0826e" stroke-width="0.8" opacity="0.4"/>
<circle cx="117.5" cy="163.2" r="1" fill="#f0826e" opacity="0.4"/>
<path d="M121.6 156.3V163.0" stroke="#f0826e" stroke-width="0.8" opacity="0.4"/>
<circle cx="121.6" cy="159.6" r="1" fill="#f0826e" opacity="0.4"/>
<path d="M125.1 157.5V161.8" stroke="#f0826e" stroke-width="0.8" opacity="0.4"/>
<circle cx="125.1" cy="159.7" r="1" fill="#f0826e" opacity="0.4"/>
<path d="M130.3 157.3V164.0" stroke="#f0826e" stroke-width="0.8" opacity="0.4"/>
<circle cx="130.3" cy="160.7" r="1" fill="#f0826e" opacity="0.4"/>
<path d="M83.8 161.4V166.3" stroke="#f2d63a" stroke-width="0.8" opacity="0.4"/>
<circle cx="83.8" cy="163.9" r="1" fill="#f2d63a" opacity="0.4"/>
<path d="M87.1 161.5V168.3" stroke="#f2d63a" stroke-width="0.8" opacity="0.4"/>
<circle cx="87.1" cy="164.9" r="1" fill="#f2d63a" opacity="0.4"/>
<path d="M91.6 162.2V165.5" stroke="#f2d63a" stroke-width="0.8" opacity="0.4"/>
<circle cx="91.6" cy="163.8" r="1" fill="#f2d63a" opacity="0.4"/>
<path d="M95.0 157.1V163.8" stroke="#f2d63a" stroke-width="0.8" opacity="0.4"/>
<circle cx="95.0" cy="160.4" r="1" fill="#f2d63a" opacity="0.4"/>
<path d="M99.6 161.4V164.5" stroke="#f2d63a" stroke-width="0.8" opacity="0.4"/>
<circle cx="99.6" cy="162.9" r="1" fill="#f2d63a" opacity="0.4"/>
<path d="M103.4 157.4V163.7" stroke="#f2d63a" stroke-width="0.8" opacity="0.4"/>
<circle cx="103.4" cy="160.6" r="1" fill="#f2d63a" opacity="0.4"/>
<path d="M108.9 161.6V166.0" stroke="#f2d63a" stroke-width="0.8" opacity="0.4"/>
<circle cx="108.9" cy="163.8" r="1" fill="#f2d63a" opacity="0.4"/>
<path d="M112.9 159.5V164.8" stroke="#f2d63a" stroke-width="0.8" opacity="0.4"/>
<circle cx="112.9" cy="162.1" r="1" fill="#f2d63a" opacity="0.4"/>
<path d="M116.3 163.6V167.5" stroke="#f2d63a" stroke-width="0.8" opacity="0.4"/>
<circle cx="116.3" cy="165.5" r="1" fill="#f2d63a" opacity="0.4"/>
<path d="M122.3 164.3V167.4" stroke="#f2d63a" stroke-width="0.8" opacity="0.4"/>
<circle cx="122.3" cy="165.9" r="1" fill="#f2d63a" opacity="0.4"/>
<path d="M125.6 161.0V168.9" stroke="#f2d63a" stroke-width="0.8" opacity="0.4"/>
<circle cx="125.6" cy="165.0" r="1" fill="#f2d63a" opacity="0.4"/>
<path d="M129.9 158.5V162.6" stroke="#f2d63a" stroke-width="0.8" opacity="0.4"/>
<circle cx="129.9" cy="160.5" r="1" fill="#f2d63a" opacity="0.4"/>
<path d="M83.7 153.2V159.1" stroke="#e274bb" stroke-width="0.8" opacity="0.4"/>
<circle cx="83.7" cy="156.2" r="1" fill="#e274bb" opacity="0.4"/>
<path d="M86.2 154.1V161.8" stroke="#e274bb" stroke-width="0.8" opacity="0.4"/>
<circle cx="86.2" cy="158.0" r="1" fill="#e274bb" opacity="0.4"/>
<path d="M90.4 156.4V162.0" stroke="#e274bb" stroke-width="0.8" opacity="0.4"/>
<circle cx="90.4" cy="159.2" r="1" fill="#e274bb" opacity="0.4"/>
<path d="M96.1 154.6V158.8" stroke="#e274bb" stroke-width="0.8" opacity="0.4"/>
<circle cx="96.1" cy="156.7" r="1" fill="#e274bb" opacity="0.4"/>
<path d="M100.3 153.0V156.2" stroke="#e274bb" stroke-width="0.8" opacity="0.4"/>
<circle cx="100.3" cy="154.6" r="1" fill="#e274bb" opacity="0.4"/>
<path d="M102.7 152.0V157.3" stroke="#e274bb" stroke-width="0.8" opacity="0.4"/>
<circle cx="102.7" cy="154.6" r="1" fill="#e274bb" opacity="0.4"/>
<path d="M107.4 149.5V154.2" stroke="#e274bb" stroke-width="0.8" opacity="0.4"/>
<circle cx="107.4" cy="151.8" r="1" fill="#e274bb" opacity="0.4"/>
<path d="M111.6 155.9V158.9" stroke="#e274bb" stroke-width="0.8" opacity="0.4"/>
<circle cx="111.6" cy="157.4" r="1" fill="#e274bb" opacity="0.4"/>
<path d="M83.3 161.8V165.4" stroke="#6f86cf" stroke-width="0.8" opacity="0.4"/>
<circle cx="83.3" cy="163.6" r="1" fill="#6f86cf" opacity="0.4"/>
<path d="M87.8 157.1V164.6" stroke="#6f86cf" stroke-width="0.8" opacity="0.4"/>
<circle cx="87.8" cy="160.9" r="1" fill="#6f86cf" opacity="0.4"/>
<path d="M90.6 154.5V159.5" stroke="#6f86cf" stroke-width="0.8" opacity="0.4"/>
<circle cx="90.6" cy="157.0" r="1" fill="#6f86cf" opacity="0.4"/>
<path d="M96.2 154.2V159.0" stroke="#6f86cf" stroke-width="0.8" opacity="0.4"/>
<circle cx="96.2" cy="156.6" r="1" fill="#6f86cf" opacity="0.4"/>
<path d="M99.2 151.4V154.6" stroke="#6f86cf" stroke-width="0.8" opacity="0.4"/>
<circle cx="99.2" cy="153.0" r="1" fill="#6f86cf" opacity="0.4"/>
<path d="M102.6 154.1V158.6" stroke="#6f86cf" stroke-width="0.8" opacity="0.4"/>
<circle cx="102.6" cy="156.4" r="1" fill="#6f86cf" opacity="0.4"/>
<path d="M108.5 147.6V151.9" stroke="#6f86cf" stroke-width="0.8" opacity="0.4"/>
<circle cx="108.5" cy="149.8" r="1" fill="#6f86cf" opacity="0.4"/>
<path d="M111.7 145.8V150.7" stroke="#6f86cf" stroke-width="0.8" opacity="0.4"/>
<circle cx="111.7" cy="148.2" r="1" fill="#6f86cf" opacity="0.4"/>
<path d="M116.8 148.6V155.6" stroke="#6f86cf" stroke-width="0.8" opacity="0.4"/>
<circle cx="116.8" cy="152.1" r="1" fill="#6f86cf" opacity="0.4"/>
<path d="M120.3 147.2V154.9" stroke="#6f86cf" stroke-width="0.8" opacity="0.4"/>
<circle cx="120.3" cy="151.1" r="1" fill="#6f86cf" opacity="0.4"/>
<path d="M124.2 151.7V154.9" stroke="#6f86cf" stroke-width="0.8" opacity="0.4"/>
<circle cx="124.2" cy="153.3" r="1" fill="#6f86cf" opacity="0.4"/>
<path d="M128.7 151.1V157.9" stroke="#6f86cf" stroke-width="0.8" opacity="0.4"/>
<circle cx="128.7" cy="154.5" r="1" fill="#6f86cf" opacity="0.4"/>
<path d="M132.7 151.2V154.5" stroke="#6f86cf" stroke-width="0.8" opacity="0.4"/>
<circle cx="132.7" cy="152.8" r="1" fill="#6f86cf" opacity="0.4"/>
<path d="M137.4 148.5V153.9" stroke="#6f86cf" stroke-width="0.8" opacity="0.4"/>
<circle cx="137.4" cy="151.2" r="1" fill="#6f86cf" opacity="0.4"/>
<path d="M82.4 153.9V160.6" stroke="#96cc3e" stroke-width="0.8" opacity="0.4"/>
<circle cx="82.4" cy="157.3" r="1" fill="#96cc3e" opacity="0.4"/>
<path d="M87.7 148.5V154.8" stroke="#96cc3e" stroke-width="0.8" opacity="0.4"/>
<circle cx="87.7" cy="151.7" r="1" fill="#96cc3e" opacity="0.4"/>
<path d="M90.4 148.6V153.5" stroke="#96cc3e" stroke-width="0.8" opacity="0.4"/>
<circle cx="90.4" cy="151.1" r="1" fill="#96cc3e" opacity="0.4"/>
<path d="M94.2 141.6V145.6" stroke="#96cc3e" stroke-width="0.8" opacity="0.4"/>
<circle cx="94.2" cy="143.6" r="1" fill="#96cc3e" opacity="0.4"/>
<path d="M99.7 139.0V143.1" stroke="#96cc3e" stroke-width="0.8" opacity="0.4"/>
<circle cx="99.7" cy="141.0" r="1" fill="#96cc3e" opacity="0.4"/>
<path d="M103.7 139.7V144.9" stroke="#96cc3e" stroke-width="0.8" opacity="0.4"/>
<circle cx="103.7" cy="142.3" r="1" fill="#96cc3e" opacity="0.4"/>
<path d="M106.3 133.2V136.6" stroke="#96cc3e" stroke-width="0.8" opacity="0.4"/>
<circle cx="106.3" cy="134.9" r="1" fill="#96cc3e" opacity="0.4"/>
<path d="M110.7 131.9V136.1" stroke="#96cc3e" stroke-width="0.8" opacity="0.4"/>
<circle cx="110.7" cy="134.0" r="1" fill="#96cc3e" opacity="0.4"/>
<path d="M114.6 134.0V141.4" stroke="#96cc3e" stroke-width="0.8" opacity="0.4"/>
<circle cx="114.6" cy="137.7" r="1" fill="#96cc3e" opacity="0.4"/>
<path d="M119.6 133.7V138.8" stroke="#96cc3e" stroke-width="0.8" opacity="0.4"/>
<circle cx="119.6" cy="136.3" r="1" fill="#96cc3e" opacity="0.4"/>
<path d="M123.2 133.7V138.3" stroke="#96cc3e" stroke-width="0.8" opacity="0.4"/>
<circle cx="123.2" cy="136.0" r="1" fill="#96cc3e" opacity="0.4"/>
<path d="M126.3 131.5V139.3" stroke="#96cc3e" stroke-width="0.8" opacity="0.4"/>
<circle cx="126.3" cy="135.4" r="1" fill="#96cc3e" opacity="0.4"/>
<path d="M130.5 134.4V140.6" stroke="#96cc3e" stroke-width="0.8" opacity="0.4"/>
<circle cx="130.5" cy="137.5" r="1" fill="#96cc3e" opacity="0.4"/>
<path d="M136.0 133.4V137.7" stroke="#96cc3e" stroke-width="0.8" opacity="0.4"/>
<circle cx="136.0" cy="135.5" r="1" fill="#96cc3e" opacity="0.4"/>
<path d="M181.4 168.9V174.1" stroke="#4fbf9f" stroke-width="0.8" opacity="0.4"/>
<circle cx="181.4" cy="171.5" r="1" fill="#4fbf9f" opacity="0.4"/>
<path d="M186.9 170.9V178.3" stroke="#4fbf9f" stroke-width="0.8" opacity="0.4"/>
<circle cx="186.9" cy="174.6" r="1" fill="#4fbf9f" opacity="0.4"/>
<path d="M189.1 164.6V171.2" stroke="#4fbf9f" stroke-width="0.8" opacity="0.4"/>
<circle cx="189.1" cy="167.9" r="1" fill="#4fbf9f" opacity="0.4"/>
<path d="M194.9 168.0V173.9" stroke="#4fbf9f" stroke-width="0.8" opacity="0.4"/>
<circle cx="194.9" cy="170.9" r="1" fill="#4fbf9f" opacity="0.4"/>
<path d="M197.2 166.3V173.9" stroke="#4fbf9f" stroke-width="0.8" opacity="0.4"/>
<circle cx="197.2" cy="170.1" r="1" fill="#4fbf9f" opacity="0.4"/>
<path d="M202.9 169.4V177.3" stroke="#4fbf9f" stroke-width="0.8" opacity="0.4"/>
<circle cx="202.9" cy="173.3" r="1" fill="#4fbf9f" opacity="0.4"/>
<path d="M205.9 165.2V169.0" stroke="#4fbf9f" stroke-width="0.8" opacity="0.4"/>
<circle cx="205.9" cy="167.1" r="1" fill="#4fbf9f" opacity="0.4"/>
<path d="M210.5 167.5V175.2" stroke="#4fbf9f" stroke-width="0.8" opacity="0.4"/>
<circle cx="210.5" cy="171.3" r="1" fill="#4fbf9f" opacity="0.4"/>
<path d="M215.0 167.3V174.1" stroke="#4fbf9f" stroke-width="0.8" opacity="0.4"/>
<circle cx="215.0" cy="170.7" r="1" fill="#4fbf9f" opacity="0.4"/>
<path d="M218.5 168.0V171.2" stroke="#4fbf9f" stroke-width="0.8" opacity="0.4"/>
<circle cx="218.5" cy="169.6" r="1" fill="#4fbf9f" opacity="0.4"/>
<path d="M223.2 162.9V170.5" stroke="#4fbf9f" stroke-width="0.8" opacity="0.4"/>
<circle cx="223.2" cy="166.7" r="1" fill="#4fbf9f" opacity="0.4"/>
<path d="M227.0 165.1V168.8" stroke="#4fbf9f" stroke-width="0.8" opacity="0.4"/>
<circle cx="227.0" cy="166.9" r="1" fill="#4fbf9f" opacity="0.4"/>
<path d="M230.3 166.1V172.6" stroke="#4fbf9f" stroke-width="0.8" opacity="0.4"/>
<circle cx="230.3" cy="169.3" r="1" fill="#4fbf9f" opacity="0.4"/>
<path d="M234.1 161.7V167.3" stroke="#4fbf9f" stroke-width="0.8" opacity="0.4"/>
<circle cx="234.1" cy="164.5" r="1" fill="#4fbf9f" opacity="0.4"/>
<path d="M182.1 168.0V172.1" stroke="#f0826e" stroke-width="0.8" opacity="0.4"/>
<circle cx="182.1" cy="170.1" r="1" fill="#f0826e" opacity="0.4"/>
<path d="M186.3 164.7V169.2" stroke="#f0826e" stroke-width="0.8" opacity="0.4"/>
<circle cx="186.3" cy="166.9" r="1" fill="#f0826e" opacity="0.4"/>
<path d="M190.1 171.3V177.6" stroke="#f0826e" stroke-width="0.8" opacity="0.4"/>
<circle cx="190.1" cy="174.4" r="1" fill="#f0826e" opacity="0.4"/>
<path d="M195.0 168.4V172.6" stroke="#f0826e" stroke-width="0.8" opacity="0.4"/>
<circle cx="195.0" cy="170.5" r="1" fill="#f0826e" opacity="0.4"/>
<path d="M197.8 171.0V177.5" stroke="#f0826e" stroke-width="0.8" opacity="0.4"/>
<circle cx="197.8" cy="174.3" r="1" fill="#f0826e" opacity="0.4"/>
<path d="M202.1 163.9V169.4" stroke="#f0826e" stroke-width="0.8" opacity="0.4"/>
<circle cx="202.1" cy="166.7" r="1" fill="#f0826e" opacity="0.4"/>
<path d="M206.9 167.6V171.9" stroke="#f0826e" stroke-width="0.8" opacity="0.4"/>
<circle cx="206.9" cy="169.8" r="1" fill="#f0826e" opacity="0.4"/>
<path d="M211.0 171.6V175.8" stroke="#f0826e" stroke-width="0.8" opacity="0.4"/>
<circle cx="211.0" cy="173.7" r="1" fill="#f0826e" opacity="0.4"/>
<path d="M213.8 166.4V171.5" stroke="#f0826e" stroke-width="0.8" opacity="0.4"/>
<circle cx="213.8" cy="169.0" r="1" fill="#f0826e" opacity="0.4"/>
<path d="M219.2 164.2V171.2" stroke="#f0826e" stroke-width="0.8" opacity="0.4"/>
<circle cx="219.2" cy="167.7" r="1" fill="#f0826e" opacity="0.4"/>
<path d="M223.4 168.1V172.1" stroke="#f0826e" stroke-width="0.8" opacity="0.4"/>
<circle cx="223.4" cy="170.1" r="1" fill="#f0826e" opacity="0.4"/>
<path d="M182.9 166.3V173.4" stroke="#f2d63a" stroke-width="0.8" opacity="0.4"/>
<circle cx="182.9" cy="169.9" r="1" fill="#f2d63a" opacity="0.4"/>
<path d="M185.5 165.7V172.5" stroke="#f2d63a" stroke-width="0.8" opacity="0.4"/>
<circle cx="185.5" cy="169.1" r="1" fill="#f2d63a" opacity="0.4"/>
<path d="M189.7 172.0V177.5" stroke="#f2d63a" stroke-width="0.8" opacity="0.4"/>
<circle cx="189.7" cy="174.7" r="1" fill="#f2d63a" opacity="0.4"/>
<path d="M193.5 166.2V171.3" stroke="#f2d63a" stroke-width="0.8" opacity="0.4"/>
<circle cx="193.5" cy="168.8" r="1" fill="#f2d63a" opacity="0.4"/>
<path d="M198.5 172.5V176.2" stroke="#f2d63a" stroke-width="0.8" opacity="0.4"/>
<circle cx="198.5" cy="174.4" r="1" fill="#f2d63a" opacity="0.4"/>
<path d="M202.1 164.4V172.3" stroke="#f2d63a" stroke-width="0.8" opacity="0.4"/>
<circle cx="202.1" cy="168.3" r="1" fill="#f2d63a" opacity="0.4"/>
<path d="M205.6 165.3V168.6" stroke="#f2d63a" stroke-width="0.8" opacity="0.4"/>
<circle cx="205.6" cy="166.9" r="1" fill="#f2d63a" opacity="0.4"/>
<path d="M210.2 169.8V177.2" stroke="#f2d63a" stroke-width="0.8" opacity="0.4"/>
<circle cx="210.2" cy="173.5" r="1" fill="#f2d63a" opacity="0.4"/>
<path d="M214.9 170.3V177.9" stroke="#f2d63a" stroke-width="0.8" opacity="0.4"/>
<circle cx="214.9" cy="174.1" r="1" fill="#f2d63a" opacity="0.4"/>
<path d="M218.2 163.7V171.3" stroke="#f2d63a" stroke-width="0.8" opacity="0.4"/>
<circle cx="218.2" cy="167.5" r="1" fill="#f2d63a" opacity="0.4"/>
<path d="M223.1 162.9V169.2" stroke="#f2d63a" stroke-width="0.8" opacity="0.4"/>
<circle cx="223.1" cy="166.1" r="1" fill="#f2d63a" opacity="0.4"/>
<path d="M226.4 166.4V171.0" stroke="#f2d63a" stroke-width="0.8" opacity="0.4"/>
<circle cx="226.4" cy="168.7" r="1" fill="#f2d63a" opacity="0.4"/>
<path d="M189.4 164.5V168.9" stroke="#6f86cf" stroke-width="0.8" opacity="0.4"/>
<circle cx="189.4" cy="166.7" r="1" fill="#6f86cf" opacity="0.4"/>
<path d="M193.8 171.5V175.1" stroke="#6f86cf" stroke-width="0.8" opacity="0.4"/>
<circle cx="193.8" cy="173.3" r="1" fill="#6f86cf" opacity="0.4"/>
<path d="M199.1 163.7V168.5" stroke="#6f86cf" stroke-width="0.8" opacity="0.4"/>
<circle cx="199.1" cy="166.1" r="1" fill="#6f86cf" opacity="0.4"/>
<path d="M202.9 167.5V172.7" stroke="#6f86cf" stroke-width="0.8" opacity="0.4"/>
<circle cx="202.9" cy="170.1" r="1" fill="#6f86cf" opacity="0.4"/>
<path d="M205.4 164.3V169.2" stroke="#6f86cf" stroke-width="0.8" opacity="0.4"/>
<circle cx="205.4" cy="166.7" r="1" fill="#6f86cf" opacity="0.4"/>
<path d="M211.3 160.7V165.5" stroke="#6f86cf" stroke-width="0.8" opacity="0.4"/>
<circle cx="211.3" cy="163.1" r="1" fill="#6f86cf" opacity="0.4"/>
<path d="M215.3 158.9V164.0" stroke="#6f86cf" stroke-width="0.8" opacity="0.4"/>
<circle cx="215.3" cy="161.4" r="1" fill="#6f86cf" opacity="0.4"/>
<path d="M219.2 166.3V169.5" stroke="#6f86cf" stroke-width="0.8" opacity="0.4"/>
<circle cx="219.2" cy="167.9" r="1" fill="#6f86cf" opacity="0.4"/>
<path d="M221.7 158.8V166.4" stroke="#6f86cf" stroke-width="0.8" opacity="0.4"/>
<circle cx="221.7" cy="162.6" r="1" fill="#6f86cf" opacity="0.4"/>
<path d="M226.2 163.0V170.5" stroke="#6f86cf" stroke-width="0.8" opacity="0.4"/>
<circle cx="226.2" cy="166.8" r="1" fill="#6f86cf" opacity="0.4"/>
<path d="M230.5 157.8V165.6" stroke="#6f86cf" stroke-width="0.8" opacity="0.4"/>
<circle cx="230.5" cy="161.7" r="1" fill="#6f86cf" opacity="0.4"/>
<path d="M235.1 156.9V163.4" stroke="#6f86cf" stroke-width="0.8" opacity="0.4"/>
<circle cx="235.1" cy="160.2" r="1" fill="#6f86cf" opacity="0.4"/>
<path d="M189.8 164.4V167.4" stroke="#e274bb" stroke-width="0.8" opacity="0.4"/>
<circle cx="189.8" cy="165.9" r="1" fill="#e274bb" opacity="0.4"/>
<path d="M195.0 166.2V172.4" stroke="#e274bb" stroke-width="0.8" opacity="0.4"/>
<circle cx="195.0" cy="169.3" r="1" fill="#e274bb" opacity="0.4"/>
<path d="M199.6 158.6V162.7" stroke="#e274bb" stroke-width="0.8" opacity="0.4"/>
<circle cx="199.6" cy="160.6" r="1" fill="#e274bb" opacity="0.4"/>
<path d="M203.0 163.1V170.9" stroke="#e274bb" stroke-width="0.8" opacity="0.4"/>
<circle cx="203.0" cy="167.0" r="1" fill="#e274bb" opacity="0.4"/>
<path d="M207.1 157.9V163.1" stroke="#e274bb" stroke-width="0.8" opacity="0.4"/>
<circle cx="207.1" cy="160.5" r="1" fill="#e274bb" opacity="0.4"/>
<path d="M211.6 163.3V167.2" stroke="#e274bb" stroke-width="0.8" opacity="0.4"/>
<circle cx="211.6" cy="165.2" r="1" fill="#e274bb" opacity="0.4"/>
<path d="M182.6 165.3V172.4" stroke="#96cc3e" stroke-width="0.8" opacity="0.4"/>
<circle cx="182.6" cy="168.8" r="1" fill="#96cc3e" opacity="0.4"/>
<path d="M186.9 163.3V168.0" stroke="#96cc3e" stroke-width="0.8" opacity="0.4"/>
<circle cx="186.9" cy="165.6" r="1" fill="#96cc3e" opacity="0.4"/>
<path d="M190.2 156.5V163.4" stroke="#96cc3e" stroke-width="0.8" opacity="0.4"/>
<circle cx="190.2" cy="160.0" r="1" fill="#96cc3e" opacity="0.4"/>
<path d="M194.0 150.0V156.7" stroke="#96cc3e" stroke-width="0.8" opacity="0.4"/>
<circle cx="194.0" cy="153.4" r="1" fill="#96cc3e" opacity="0.4"/>
<path d="M198.6 146.4V149.5" stroke="#96cc3e" stroke-width="0.8" opacity="0.4"/>
<circle cx="198.6" cy="147.9" r="1" fill="#96cc3e" opacity="0.4"/>
<path d="M203.5 141.9V149.8" stroke="#96cc3e" stroke-width="0.8" opacity="0.4"/>
<circle cx="203.5" cy="145.9" r="1" fill="#96cc3e" opacity="0.4"/>
<path d="M208.5 146.3V150.6" stroke="#96cc3e" stroke-width="0.8" opacity="0.4"/>
<circle cx="208.5" cy="148.4" r="1" fill="#96cc3e" opacity="0.4"/>
<path d="M211.1 137.2V142.7" stroke="#96cc3e" stroke-width="0.8" opacity="0.4"/>
<circle cx="211.1" cy="139.9" r="1" fill="#96cc3e" opacity="0.4"/>
<path d="M216.7 137.9V142.1" stroke="#96cc3e" stroke-width="0.8" opacity="0.4"/>
<circle cx="216.7" cy="140.0" r="1" fill="#96cc3e" opacity="0.4"/>
<path d="M220.4 137.6V143.9" stroke="#96cc3e" stroke-width="0.8" opacity="0.4"/>
<circle cx="220.4" cy="140.8" r="1" fill="#96cc3e" opacity="0.4"/>
<path d="M225.3 139.4V145.7" stroke="#96cc3e" stroke-width="0.8" opacity="0.4"/>
<circle cx="225.3" cy="142.6" r="1" fill="#96cc3e" opacity="0.4"/>
<path d="M228.3 140.3V144.8" stroke="#96cc3e" stroke-width="0.8" opacity="0.4"/>
<circle cx="228.3" cy="142.5" r="1" fill="#96cc3e" opacity="0.4"/>
<path d="M233.5 139.2V145.9" stroke="#96cc3e" stroke-width="0.8" opacity="0.4"/>
<circle cx="233.5" cy="142.6" r="1" fill="#96cc3e" opacity="0.4"/>
<path d="M81.8 75.7 C82.8 74.6 85.5 71.6 88.0 69.0 C90.5 66.4 94.0 61.2 96.5 60.0 C99.0 58.8 101.1 61.4 103.0 61.5 C104.9 61.6 106.2 61.2 108.0 60.5 C109.8 59.8 113.0 57.8 114.0 57.2" fill="none" stroke="#f6e3f0" stroke-width="3" stroke-linecap="round" stroke-linejoin="round" opacity="0.9"/>
<path d="M72.3 83.3 C73.9 82.7 77.8 81.1 81.8 79.8 C85.8 78.5 92.6 76.6 96.5 75.4 C100.4 74.2 99.5 73.3 105.0 72.8 C110.5 72.3 125.4 72.6 129.5 72.6" fill="none" stroke="#fbf6d6" stroke-width="3" stroke-linecap="round" stroke-linejoin="round" opacity="0.9"/>
<path d="M81.8 82.5 C83.5 81.9 88.1 80.3 92.0 79.0 C95.9 77.7 100.3 75.6 105.0 74.8 C109.7 74.0 115.9 74.2 120.0 74.0 C124.1 73.8 126.4 73.9 129.5 73.5 C132.6 73.1 137.2 71.8 138.8 71.5" fill="none" stroke="#e2e6f5" stroke-width="3" stroke-linecap="round" stroke-linejoin="round" opacity="0.9"/>
<path d="M76.0 84.0 C79.2 83.8 88.7 83.1 95.0 82.5 C101.3 81.9 108.5 81.2 114.0 80.3 C119.5 79.4 125.6 76.7 128.0 77.2 C130.4 77.7 128.2 82.5 128.2 83.5" fill="none" stroke="#fbe4df" stroke-width="3" stroke-linecap="round" stroke-linejoin="round" opacity="0.9"/>
<path d="M80.0 83.8 L139.0 83.8" fill="none" stroke="#dff1ec" stroke-width="3" stroke-linecap="round" stroke-linejoin="round" opacity="0.9"/>
<path d="M179.4 67.6 C181.9 67.8 184.8 68.1 194.3 68.7 C203.8 69.3 229.6 70.6 236.6 71.0" fill="none" stroke="#dff1ec" stroke-width="3" stroke-linecap="round" stroke-linejoin="round" opacity="0.9"/>
<path d="M179.4 68.7 C181.9 69.2 188.8 71.1 194.3 71.7 C199.8 72.3 206.9 72.2 212.6 72.1 C218.3 72.0 225.9 71.2 228.6 71.0" fill="none" stroke="#fbf6d6" stroke-width="3" stroke-linecap="round" stroke-linejoin="round" opacity="0.9"/>
<path d="M179.4 69.8 C181.1 69.6 187.0 69.2 189.7 68.7 C192.4 68.2 193.1 68.6 195.4 67.1 C197.7 65.6 200.9 61.0 203.4 59.6 C205.9 58.2 206.3 58.5 210.3 58.4 C214.3 58.3 224.6 59.0 227.4 59.1" fill="none" stroke="#fbe4df" stroke-width="3" stroke-linecap="round" stroke-linejoin="round" opacity="0.9"/>
<path d="M179.4 74.4 C180.0 72.1 181.6 65.0 182.9 60.7 C184.2 56.4 185.5 51.5 187.4 48.5 C189.3 45.5 191.6 44.1 194.3 42.4 C197.0 40.7 200.4 38.7 203.4 38.5 C206.4 38.3 208.8 40.1 212.6 41.3 C216.4 42.5 222.1 44.6 226.3 45.9 C230.5 47.2 235.8 48.7 237.7 49.3" fill="none" stroke="#e2e6f5" stroke-width="3" stroke-linecap="round" stroke-linejoin="round" opacity="0.9"/>
<path d="M179.4 73.3 C179.8 69.7 180.8 57.0 181.7 51.6 C182.6 46.2 182.9 43.5 185.0 41.0 C187.1 38.5 189.0 37.6 194.0 36.7 C199.0 35.8 208.1 35.4 215.0 35.6 C221.9 35.8 232.0 37.5 235.4 37.9" fill="none" stroke="#e9f4dc" stroke-width="3" stroke-linecap="round" stroke-linejoin="round" opacity="0.9"/>
<path d="M180.5 40.0 C181.1 38.7 182.5 33.7 184.0 32.0 C185.5 30.3 184.9 30.3 189.7 30.0 C194.5 29.7 208.8 30.0 212.6 30.0" fill="none" stroke="#f6e3f0" stroke-width="3" stroke-linecap="round" stroke-linejoin="round" opacity="0.9"/>
<path d="M80.7 163.0 C85.0 163.0 98.7 162.5 106.4 163.0 C114.1 163.5 121.6 164.7 127.0 166.0 C132.4 167.3 136.7 170.1 138.6 170.9" fill="none" stroke="#dff1ec" stroke-width="3" stroke-linecap="round" stroke-linejoin="round" opacity="0.9"/>
<path d="M80.7 163.5 L132.0 163.0" fill="none" stroke="#fbe4df" stroke-width="3" stroke-linecap="round" stroke-linejoin="round" opacity="0.9"/>
<path d="M80.7 164.4 C82.8 164.1 85.0 162.7 93.6 162.4 C102.2 162.1 125.7 162.4 132.1 162.4" fill="none" stroke="#fbf6d6" stroke-width="3" stroke-linecap="round" stroke-linejoin="round" opacity="0.9"/>
<path d="M80.7 159.3 C83.5 158.5 91.8 155.5 97.4 154.7 C103.0 153.9 111.3 154.7 114.1 154.7" fill="none" stroke="#f6e3f0" stroke-width="3" stroke-linecap="round" stroke-linejoin="round" opacity="0.9"/>
<path d="M80.7 161.9 C83.5 160.8 91.6 157.5 97.4 155.4 C103.2 153.3 111.5 150.8 115.4 149.5 C119.3 148.2 119.1 146.6 121.0 147.5 C122.9 148.4 124.1 153.9 127.0 155.0 C129.9 156.1 136.7 154.2 138.6 154.1" fill="none" stroke="#e2e6f5" stroke-width="3" stroke-linecap="round" stroke-linejoin="round" opacity="0.9"/>
<path d="M80.7 160.6 C82.0 159.3 85.6 155.9 88.4 152.9 C91.2 149.9 94.6 145.2 97.4 142.6 C100.2 140.0 101.0 138.3 105.1 137.4 C109.2 136.5 116.5 136.8 121.9 136.9 C127.3 137.0 134.7 137.7 137.3 137.9" fill="none" stroke="#e9f4dc" stroke-width="3" stroke-linecap="round" stroke-linejoin="round" opacity="0.9"/>
<path d="M179.9 172.4 L236.9 167.7" fill="none" stroke="#dff1ec" stroke-width="3" stroke-linecap="round" stroke-linejoin="round" opacity="0.9"/>
<path d="M179.9 171.0 L225.0 170.0" fill="none" stroke="#fbe4df" stroke-width="3" stroke-linecap="round" stroke-linejoin="round" opacity="0.9"/>
<path d="M179.9 171.5 L228.7 169.6" fill="none" stroke="#fbf6d6" stroke-width="3" stroke-linecap="round" stroke-linejoin="round" opacity="0.9"/>
<path d="M188.0 171.0 C192.3 170.0 208.1 165.8 213.8 165.0 C219.5 164.2 218.2 166.7 222.0 166.1 C225.8 165.5 234.4 162.3 236.9 161.5" fill="none" stroke="#e2e6f5" stroke-width="3" stroke-linecap="round" stroke-linejoin="round" opacity="0.9"/>
<path d="M188.0 168.3 C190.7 167.4 200.0 164.0 204.3 162.9 C208.6 161.8 212.2 161.7 213.8 161.5" fill="none" stroke="#f6e3f0" stroke-width="3" stroke-linecap="round" stroke-linejoin="round" opacity="0.9"/>
<path d="M179.9 168.3 C181.2 167.6 185.5 166.5 188.0 164.2 C190.5 161.9 192.1 157.6 194.8 154.7 C197.5 151.8 200.5 149.1 204.3 146.6 C208.2 144.1 213.8 140.9 217.9 139.8 C222.0 138.7 225.8 138.9 228.7 139.8 C231.6 140.7 234.4 144.3 235.5 145.2" fill="none" stroke="#e9f4dc" stroke-width="3" stroke-linecap="round" stroke-linejoin="round" opacity="0.9"/>
<path d="M81.8 75.7 C82.8 74.6 85.5 71.6 88.0 69.0 C90.5 66.4 94.0 61.2 96.5 60.0 C99.0 58.8 101.1 61.4 103.0 61.5 C104.9 61.6 106.2 61.2 108.0 60.5 C109.8 59.8 113.0 57.8 114.0 57.2" fill="none" stroke="#e274bb" stroke-width="1.35" stroke-linejoin="round"/>
<path d="M72.3 83.3 C73.9 82.7 77.8 81.1 81.8 79.8 C85.8 78.5 92.6 76.6 96.5 75.4 C100.4 74.2 99.5 73.3 105.0 72.8 C110.5 72.3 125.4 72.6 129.5 72.6" fill="none" stroke="#f2d63a" stroke-width="1.35" stroke-linejoin="round"/>
<path d="M81.8 82.5 C83.5 81.9 88.1 80.3 92.0 79.0 C95.9 77.7 100.3 75.6 105.0 74.8 C109.7 74.0 115.9 74.2 120.0 74.0 C124.1 73.8 126.4 73.9 129.5 73.5 C132.6 73.1 137.2 71.8 138.8 71.5" fill="none" stroke="#6f86cf" stroke-width="1.35" stroke-linejoin="round"/>
<path d="M76.0 84.0 C79.2 83.8 88.7 83.1 95.0 82.5 C101.3 81.9 108.5 81.2 114.0 80.3 C119.5 79.4 125.6 76.7 128.0 77.2 C130.4 77.7 128.2 82.5 128.2 83.5" fill="none" stroke="#f0826e" stroke-width="1.35" stroke-linejoin="round"/>
<path d="M80.0 83.8 L139.0 83.8" fill="none" stroke="#4fbf9f" stroke-width="1.35" stroke-linejoin="round"/>
<path d="M179.4 67.6 C181.9 67.8 184.8 68.1 194.3 68.7 C203.8 69.3 229.6 70.6 236.6 71.0" fill="none" stroke="#4fbf9f" stroke-width="1.35" stroke-linejoin="round"/>
<path d="M179.4 68.7 C181.9 69.2 188.8 71.1 194.3 71.7 C199.8 72.3 206.9 72.2 212.6 72.1 C218.3 72.0 225.9 71.2 228.6 71.0" fill="none" stroke="#f2d63a" stroke-width="1.35" stroke-linejoin="round"/>
<path d="M179.4 69.8 C181.1 69.6 187.0 69.2 189.7 68.7 C192.4 68.2 193.1 68.6 195.4 67.1 C197.7 65.6 200.9 61.0 203.4 59.6 C205.9 58.2 206.3 58.5 210.3 58.4 C214.3 58.3 224.6 59.0 227.4 59.1" fill="none" stroke="#f0826e" stroke-width="1.35" stroke-linejoin="round"/>
<path d="M179.4 74.4 C180.0 72.1 181.6 65.0 182.9 60.7 C184.2 56.4 185.5 51.5 187.4 48.5 C189.3 45.5 191.6 44.1 194.3 42.4 C197.0 40.7 200.4 38.7 203.4 38.5 C206.4 38.3 208.8 40.1 212.6 41.3 C216.4 42.5 222.1 44.6 226.3 45.9 C230.5 47.2 235.8 48.7 237.7 49.3" fill="none" stroke="#6f86cf" stroke-width="1.35" stroke-linejoin="round"/>
<path d="M179.4 73.3 C179.8 69.7 180.8 57.0 181.7 51.6 C182.6 46.2 182.9 43.5 185.0 41.0 C187.1 38.5 189.0 37.6 194.0 36.7 C199.0 35.8 208.1 35.4 215.0 35.6 C221.9 35.8 232.0 37.5 235.4 37.9" fill="none" stroke="#96cc3e" stroke-width="1.35" stroke-linejoin="round"/>
<path d="M180.5 40.0 C181.1 38.7 182.5 33.7 184.0 32.0 C185.5 30.3 184.9 30.3 189.7 30.0 C194.5 29.7 208.8 30.0 212.6 30.0" fill="none" stroke="#e274bb" stroke-width="1.35" stroke-linejoin="round"/>
<path d="M80.7 163.0 C85.0 163.0 98.7 162.5 106.4 163.0 C114.1 163.5 121.6 164.7 127.0 166.0 C132.4 167.3 136.7 170.1 138.6 170.9" fill="none" stroke="#4fbf9f" stroke-width="1.35" stroke-linejoin="round"/>
<path d="M80.7 163.5 L132.0 163.0" fill="none" stroke="#f0826e" stroke-width="1.35" stroke-linejoin="round"/>
<path d="M80.7 164.4 C82.8 164.1 85.0 162.7 93.6 162.4 C102.2 162.1 125.7 162.4 132.1 162.4" fill="none" stroke="#f2d63a" stroke-width="1.35" stroke-linejoin="round"/>
<path d="M80.7 159.3 C83.5 158.5 91.8 155.5 97.4 154.7 C103.0 153.9 111.3 154.7 114.1 154.7" fill="none" stroke="#e274bb" stroke-width="1.35" stroke-linejoin="round"/>
<path d="M80.7 161.9 C83.5 160.8 91.6 157.5 97.4 155.4 C103.2 153.3 111.5 150.8 115.4 149.5 C119.3 148.2 119.1 146.6 121.0 147.5 C122.9 148.4 124.1 153.9 127.0 155.0 C129.9 156.1 136.7 154.2 138.6 154.1" fill="none" stroke="#6f86cf" stroke-width="1.35" stroke-linejoin="round"/>
<path d="M80.7 160.6 C82.0 159.3 85.6 155.9 88.4 152.9 C91.2 149.9 94.6 145.2 97.4 142.6 C100.2 140.0 101.0 138.3 105.1 137.4 C109.2 136.5 116.5 136.8 121.9 136.9 C127.3 137.0 134.7 137.7 137.3 137.9" fill="none" stroke="#96cc3e" stroke-width="1.35" stroke-linejoin="round"/>
<path d="M179.9 172.4 L236.9 167.7" fill="none" stroke="#4fbf9f" stroke-width="1.35" stroke-linejoin="round"/>
<path d="M179.9 171.0 L225.0 170.0" fill="none" stroke="#f0826e" stroke-width="1.35" stroke-linejoin="round"/>
<path d="M179.9 171.5 L228.7 169.6" fill="none" stroke="#f2d63a" stroke-width="1.35" stroke-linejoin="round"/>
<path d="M188.0 171.0 C192.3 170.0 208.1 165.8 213.8 165.0 C219.5 164.2 218.2 166.7 222.0 166.1 C225.8 165.5 234.4 162.3 236.9 161.5" fill="none" stroke="#6f86cf" stroke-width="1.35" stroke-linejoin="round"/>
<path d="M188.0 168.3 C190.7 167.4 200.0 164.0 204.3 162.9 C208.6 161.8 212.2 161.7 213.8 161.5" fill="none" stroke="#e274bb" stroke-width="1.35" stroke-linejoin="round"/>
<path d="M179.9 168.3 C181.2 167.6 185.5 166.5 188.0 164.2 C190.5 161.9 192.1 157.6 194.8 154.7 C197.5 151.8 200.5 149.1 204.3 146.6 C208.2 144.1 213.8 140.9 217.9 139.8 C222.0 138.7 225.8 138.9 228.7 139.8 C231.6 140.7 234.4 144.3 235.5 145.2" fill="none" stroke="#96cc3e" stroke-width="1.35" stroke-linejoin="round"/>
  </g>

  <!-- chart titles -->
  <g font-weight="bold" font-size="6.6" fill="#111" text-anchor="middle">
    <text x="106" y="11.9">% Circulating Parental</text>
    <text x="106" y="18.9">CD45.2+ Cells</text>
    <text x="205" y="15.3">HGB (g/dl)</text>
    <text x="106.7" y="103.4">MONO (10^3/µl)</text>
    <text x="205" y="102.2">PLT (10^3/µl)</text>
  </g>

  <!-- axes -->
  <g stroke="#111" stroke-width="1.4" fill="none">
    <path d="M70.4 21.5V90.5"/>
    <path d="M168.8 21.7V90.3"/>
    <path d="M70.6 109.7V178.2H142.8"/>
    <path d="M168.7 109.7V178.2H241.5"/>
    <!-- y ticks -->
    <path d="M66 84H70.4M66 67.9H70.4M66 51.8H70.4M66 35.7H70.4"/>
    <path d="M164.5 71.5H168.8M164.5 52H168.8M164.5 32.5H168.8"/>
    <path d="M66.2 155.3H70.6M66.2 131H70.6"/>
    <path d="M164.4 176.8H168.7M164.4 164H168.7M164.4 151.2H168.7M164.4 138.3H168.7M164.4 125.4H168.7M164.4 112.4H168.7"/>
    <!-- x ticks -->
    <path d="M73.3 178.2V182.2M89.8 178.2V182.2M106.2 178.2V182.2M122.7 178.2V182.2M139.2 178.2V182.2"/>
    <path d="M172.3 178.2V182.2M188.7 178.2V182.2M205.1 178.2V182.2M221.5 178.2V182.2M237.9 178.2V182.2"/>
  </g>
  <g font-weight="bold" font-size="7.8" fill="#111" text-anchor="end">
    <text x="65.3" y="86.8">0</text>
    <text x="65.3" y="70.7">5</text>
    <text x="65.3" y="54.6">10</text>
    <text x="65.3" y="38.5">15</text>
    <text x="164.2" y="74.3">15</text>
    <text x="164.2" y="54.8">20</text>
    <text x="164.2" y="35.3">25</text>
    <text x="65.5" y="158.1">1</text>
    <text x="65.5" y="133.8">2</text>
    <text x="163.3" y="179.6">0</text>
    <text x="163.3" y="166.8">1000</text>
    <text x="163.3" y="154">2000</text>
    <text x="163.3" y="141.1">3000</text>
    <text x="163.3" y="128.2">4000</text>
    <text x="163.3" y="115.2">5000</text>
  </g>
  <g font-weight="bold" font-size="7.6" fill="#111" text-anchor="middle">
    <text x="73.3" y="190.4">0</text>
    <text x="89.8" y="190.4">50</text>
    <text x="106.2" y="190.4">100</text>
    <text x="122.7" y="190.4">150</text>
    <text x="139.2" y="190.4">200</text>
    <text x="172.3" y="190.4">0</text>
    <text x="188.7" y="190.4">50</text>
    <text x="205.1" y="190.4">100</text>
    <text x="221.5" y="190.4">150</text>
    <text x="237.9" y="190.4">200</text>
  </g>
  <text x="155.75" y="202.2" font-weight="bold" font-size="8.3" fill="#111" text-anchor="middle" textLength="93.7" lengthAdjust="spacingAndGlyphs">Age (days) or Post BMT</text>

  <!-- legend -->
  <rect x="87.5" y="214.5" width="122.5" height="80.5" fill="none" stroke="#888" stroke-width="1"/>
  <text x="148.6" y="225.6" font-weight="bold" font-size="9.2" fill="#111" text-anchor="middle" textLength="46" lengthAdjust="spacingAndGlyphs">BMT Group</text><path d="M125.6 227.2H171.6" stroke="#111" stroke-width="0.8"/>
<rect x="91.5" y="231.75" width="16" height="9.5" fill="#e9f3f0"/>
<path d="M93.3 236.50H104.9" stroke="#4fbf9f" stroke-width="1.2" opacity="0.6"/>
<text x="110" y="238.80" font-size="6.1" fill="#222">Naive No BMT (CD45.1); n=24</text>
<rect x="91.5" y="241.25" width="16" height="9.5" fill="#f6ebe8"/>
<path d="M93.3 246.00H104.9" stroke="#f0826e" stroke-width="1.2" opacity="0.6"/>
<text x="110" y="248.30" font-size="6.1" fill="#222">1.0 x 10^6 BMT w/ JAK2VF; n=14</text>
<rect x="91.5" y="250.75" width="16" height="9.5" fill="#eaecf4"/>
<path d="M93.3 255.50H104.9" stroke="#6f86cf" stroke-width="1.2" opacity="0.6"/>
<text x="110" y="257.80" font-size="6.1" fill="#222">5.0 x 10^6 BMT w/ JAK2VF; n=15</text>
<rect x="91.5" y="260.25" width="16" height="9.5" fill="#f4eaf1"/>
<path d="M93.3 265.00H104.9" stroke="#e274bb" stroke-width="1.2" opacity="0.6"/>
<text x="110" y="267.30" font-size="6.1" fill="#222">1.5 x 10^7 BMT w/ JAK2VF; n=10</text>
<rect x="91.5" y="269.75" width="16" height="9.5" fill="#eef3e6"/>
<path d="M93.3 274.50H104.9" stroke="#96cc3e" stroke-width="1.2" opacity="0.6"/>
<text x="110" y="276.80" font-size="6.1" fill="#222">JAK2VF Parental (CD45.2); n=38</text>
<rect x="91.5" y="279.25" width="16" height="9.5" fill="#f6f3e2"/>
<path d="M93.3 284.00H104.9" stroke="#f2d63a" stroke-width="1.2" opacity="0.6"/>
<text x="110" y="286.30" font-size="6.1" fill="#222">1.5 x 10^7 BMT w/ WT; n=10</text>

  <!-- panel B -->
  <rect x="311" y="2" width="178" height="293" fill="#000"/>
  <g stroke="#8a8a8a" stroke-width="1" fill="none">
    <path d="M311 21.8H489M311 137H489M311 168.6H489"/>
    <path d="M390.3 21.8V137M404.8 168.6V295"/>
  </g>
  <g filter="url(#bl)">
<g fill="#eaeaea" stroke="#eaeaea" stroke-width="1.9" stroke-linejoin="round"><path d="M312.9 41.5 L312.9 42.1 L313.0 42.8 L313.2 43.6 L313.5 44.6 L314.0 45.7 L314.5 46.9 L315.1 48.2 L315.6 49.6 L316.1 51.1 L316.5 52.7 L316.7 54.4 L316.8 56.2 L316.9 58.2 L317.1 60.3 L317.3 62.5 L317.6 65.0 L317.9 67.8 L318.2 70.7 L318.6 73.7 L319.0 76.8 L319.4 80.0 L319.9 83.2 L320.3 86.3 L320.7 89.4 L321.1 92.4 L321.5 95.3 L321.8 97.9 L322.1 100.4 L322.4 102.6 L322.6 104.9 L322.9 107.1 L323.1 109.3 L323.4 111.4 L323.4 113.4 L323.2 115.4 L322.9 117.3 L322.6 119.0 L322.2 120.7 L322.0 122.2 L321.9 123.5 L322.1 124.6 L322.2 125.6 L333.4 124.4 L333.3 123.4 L333.2 122.3 L332.8 121.0 L332.3 119.6 L331.6 118.0 L330.9 116.4 L330.2 114.6 L329.6 112.7 L329.2 110.7 L328.9 108.6 L328.7 106.5 L328.4 104.2 L328.2 102.0 L327.9 99.6 L327.6 97.2 L327.3 94.5 L326.9 91.7 L326.5 88.7 L326.1 85.6 L325.7 82.4 L325.2 79.2 L324.8 76.0 L324.4 72.9 L324.0 69.9 L323.7 67.1 L323.4 64.4 L323.1 61.9 L322.9 59.7 L322.7 57.8 L322.6 55.9 L322.6 54.2 L322.7 52.5 L323.0 51.0 L323.5 49.6 L324.0 48.3 L324.6 47.1 L325.2 46.0 L325.7 45.0 L326.2 44.1 L326.4 43.2 L326.5 42.3 L326.5 41.5Z"/><ellipse cx="320.90" cy="41.50" rx="7.40" ry="5.5"/><ellipse cx="328.30" cy="125.00" rx="6.30" ry="5.5"/></g><g fill="#6e6e6e"><path d="M312.9 41.5 L312.9 42.1 L313.0 42.8 L313.2 43.6 L313.5 44.6 L314.0 45.7 L314.5 46.9 L315.1 48.2 L315.6 49.6 L316.1 51.1 L316.5 52.7 L316.7 54.4 L316.8 56.2 L316.9 58.2 L317.1 60.3 L317.3 62.5 L317.6 65.0 L317.9 67.8 L318.2 70.7 L318.6 73.7 L319.0 76.8 L319.4 80.0 L319.9 83.2 L320.3 86.3 L320.7 89.4 L321.1 92.4 L321.5 95.3 L321.8 97.9 L322.1 100.4 L322.4 102.6 L322.6 104.9 L322.9 107.1 L323.1 109.3 L323.4 111.4 L323.4 113.4 L323.2 115.4 L322.9 117.3 L322.6 119.0 L322.2 120.7 L322.0 122.2 L321.9 123.5 L322.1 124.6 L322.2 125.6 L333.4 124.4 L333.3 123.4 L333.2 122.3 L332.8 121.0 L332.3 119.6 L331.6 118.0 L330.9 116.4 L330.2 114.6 L329.6 112.7 L329.2 110.7 L328.9 108.6 L328.7 106.5 L328.4 104.2 L328.2 102.0 L327.9 99.6 L327.6 97.2 L327.3 94.5 L326.9 91.7 L326.5 88.7 L326.1 85.6 L325.7 82.4 L325.2 79.2 L324.8 76.0 L324.4 72.9 L324.0 69.9 L323.7 67.1 L323.4 64.4 L323.1 61.9 L322.9 59.7 L322.7 57.8 L322.6 55.9 L322.6 54.2 L322.7 52.5 L323.0 51.0 L323.5 49.6 L324.0 48.3 L324.6 47.1 L325.2 46.0 L325.7 45.0 L326.2 44.1 L326.4 43.2 L326.5 42.3 L326.5 41.5Z"/><ellipse cx="320.90" cy="41.50" rx="7.40" ry="5.5"/><ellipse cx="328.30" cy="125.00" rx="6.30" ry="5.5"/></g><path d="M317.1 49.6 L317.6 51.1 L318.0 52.6 L318.2 54.3 L318.3 56.1 L318.4 58.1 L318.6 60.1 L318.8 62.4 L319.1 64.9 L319.4 67.6 L319.7 70.5 L320.1 73.5 L320.5 76.6 L320.9 79.8 L321.4 83.0 L321.8 86.1 L322.2 89.2 L322.6 92.2 L322.9 95.1 L323.3 97.7 L323.6 100.2 L323.9 102.5 L324.1 104.7 L324.4 107.0 L324.6 109.1 L324.9 111.2 L327.7 110.9 L327.5 108.8 L327.2 106.6 L327.0 104.4 L326.7 102.1 L326.4 99.8 L326.1 97.4 L325.8 94.7 L325.4 91.8 L325.0 88.9 L324.6 85.8 L324.2 82.6 L323.8 79.4 L323.3 76.2 L322.9 73.1 L322.6 70.1 L322.2 67.3 L321.9 64.6 L321.6 62.1 L321.4 59.9 L321.3 57.9 L321.1 56.0 L321.1 54.2 L321.2 52.6 L321.5 51.0 L322.0 49.6Z" fill="#444444"/><path d="M316.7 47.0 L317.0 48.2 L317.3 49.6 L317.6 51.0 L317.8 52.6 L318.0 54.3 L318.1 56.1 L318.2 58.0 L318.4 60.0 L318.6 62.2 L318.8 64.7 L319.2 67.4 L319.5 70.3 L319.9 73.3 L320.3 76.4 L320.7 79.6 L321.1 82.8 L321.5 85.9 L322.0 89.0 L322.4 92.0 L322.7 94.9 L323.1 97.6 L323.4 100.0 L323.6 102.3 L323.9 104.6 L324.2 106.8 L324.4 109.0 L324.6 111.1 L324.8 113.1 L324.8 115.0 L324.7 116.8" fill="none" stroke="#9c9c9c" stroke-width="0.6" opacity="0.8"/><path d="M321.8 47.0 L321.5 48.2 L321.3 49.6 L321.1 51.0 L320.9 52.6 L320.9 54.3 L321.0 56.1 L321.1 58.0 L321.3 60.0 L321.5 62.2 L321.8 64.7 L322.1 67.4 L322.4 70.3 L322.8 73.3 L323.2 76.4 L323.6 79.6 L324.0 82.8 L324.5 85.9 L324.9 89.0 L325.3 92.0 L325.6 94.9 L326.0 97.6 L326.3 100.0 L326.6 102.3 L326.8 104.6 L327.1 106.8 L327.3 109.0 L327.6 111.1 L327.9 113.1 L328.3 115.0 L328.7 116.8" fill="none" stroke="#9c9c9c" stroke-width="0.6" opacity="0.8"/><ellipse cx="321.40" cy="41.00" rx="6.96" ry="5.2" fill="#dedede"/><ellipse cx="322.68" cy="42.00" rx="1.78" ry="1.6" fill="#9a9a9a"/><ellipse cx="320.40" cy="48.00" rx="2.96" ry="3.5" fill="#9a9a9a"/><ellipse cx="327.80" cy="125.00" rx="4.03" ry="4" fill="#d6d6d6"/><ellipse cx="331.45" cy="122.50" rx="1.6" ry="2.2" fill="#222"/>
<g fill="#eaeaea" stroke="#eaeaea" stroke-width="1.9" stroke-linejoin="round"><path d="M340.3 38.4 L340.3 39.1 L340.2 39.9 L340.4 40.9 L340.8 42.1 L341.2 43.5 L341.8 44.9 L342.3 46.5 L342.8 48.2 L343.2 50.0 L343.5 51.8 L343.6 53.7 L343.5 55.7 L343.4 57.8 L343.4 60.0 L343.4 62.3 L343.4 64.9 L343.5 67.6 L343.6 70.6 L343.7 73.6 L343.9 76.7 L344.0 79.9 L344.2 83.0 L344.3 86.2 L344.5 89.2 L344.6 92.2 L344.8 95.0 L344.9 97.7 L345.0 100.1 L345.1 102.4 L345.2 104.7 L345.3 107.0 L345.4 109.2 L345.4 111.3 L345.2 113.3 L344.7 115.3 L344.0 117.2 L343.3 118.9 L342.6 120.6 L342.0 122.1 L341.7 123.4 L341.8 124.6 L341.8 125.6 L356.2 125.0 L356.2 124.0 L356.1 122.9 L355.7 121.5 L355.1 120.1 L354.2 118.5 L353.3 116.8 L352.5 115.0 L351.8 113.1 L351.5 111.0 L351.4 108.9 L351.3 106.7 L351.2 104.5 L351.1 102.2 L351.0 99.9 L350.9 97.4 L350.8 94.7 L350.6 91.9 L350.5 88.9 L350.3 85.9 L350.2 82.7 L350.0 79.6 L349.9 76.4 L349.7 73.3 L349.6 70.3 L349.5 67.5 L349.4 64.8 L349.4 62.3 L349.4 60.0 L349.4 58.0 L349.5 56.0 L349.6 54.1 L350.0 52.3 L350.6 50.7 L351.4 49.2 L352.2 47.8 L353.2 46.5 L354.1 45.3 L354.9 44.2 L355.6 43.1 L356.0 42.1 L356.3 41.1 L356.4 40.2Z"/><ellipse cx="349.75" cy="39.30" rx="8.75" ry="5.5"/><ellipse cx="349.50" cy="125.30" rx="8.00" ry="5.5"/></g><g fill="#6e6e6e"><path d="M340.3 38.4 L340.3 39.1 L340.2 39.9 L340.4 40.9 L340.8 42.1 L341.2 43.5 L341.8 44.9 L342.3 46.5 L342.8 48.2 L343.2 50.0 L343.5 51.8 L343.6 53.7 L343.5 55.7 L343.4 57.8 L343.4 60.0 L343.4 62.3 L343.4 64.9 L343.5 67.6 L343.6 70.6 L343.7 73.6 L343.9 76.7 L344.0 79.9 L344.2 83.0 L344.3 86.2 L344.5 89.2 L344.6 92.2 L344.8 95.0 L344.9 97.7 L345.0 100.1 L345.1 102.4 L345.2 104.7 L345.3 107.0 L345.4 109.2 L345.4 111.3 L345.2 113.3 L344.7 115.3 L344.0 117.2 L343.3 118.9 L342.6 120.6 L342.0 122.1 L341.7 123.4 L341.8 124.6 L341.8 125.6 L356.2 125.0 L356.2 124.0 L356.1 122.9 L355.7 121.5 L355.1 120.1 L354.2 118.5 L353.3 116.8 L352.5 115.0 L351.8 113.1 L351.5 111.0 L351.4 108.9 L351.3 106.7 L351.2 104.5 L351.1 102.2 L351.0 99.9 L350.9 97.4 L350.8 94.7 L350.6 91.9 L350.5 88.9 L350.3 85.9 L350.2 82.7 L350.0 79.6 L349.9 76.4 L349.7 73.3 L349.6 70.3 L349.5 67.5 L349.4 64.8 L349.4 62.3 L349.4 60.0 L349.4 58.0 L349.5 56.0 L349.6 54.1 L350.0 52.3 L350.6 50.7 L351.4 49.2 L352.2 47.8 L353.2 46.5 L354.1 45.3 L354.9 44.2 L355.6 43.1 L356.0 42.1 L356.3 41.1 L356.4 40.2Z"/><ellipse cx="349.75" cy="39.30" rx="8.75" ry="5.5"/><ellipse cx="349.50" cy="125.30" rx="8.00" ry="5.5"/></g><path d="M344.3 48.4 L344.7 50.1 L345.0 51.9 L345.1 53.8 L345.0 55.8 L344.9 57.8 L344.9 60.0 L344.9 62.3 L344.9 64.9 L345.0 67.6 L345.1 70.5 L345.2 73.5 L345.4 76.6 L345.5 79.8 L345.7 82.9 L345.8 86.1 L346.0 89.2 L346.1 92.1 L346.3 95.0 L346.4 97.6 L346.5 100.1 L346.6 102.4 L346.7 104.7 L346.8 106.9 L346.9 109.1 L346.9 111.2 L350.0 111.1 L349.9 109.0 L349.8 106.8 L349.7 104.5 L349.6 102.3 L349.5 99.9 L349.4 97.5 L349.3 94.8 L349.1 92.0 L349.0 89.0 L348.8 85.9 L348.7 82.8 L348.5 79.6 L348.4 76.5 L348.2 73.4 L348.1 70.4 L348.0 67.5 L347.9 64.8 L347.9 62.3 L347.9 60.0 L347.9 57.9 L348.0 55.9 L348.1 54.0 L348.5 52.2 L349.1 50.5 L349.9 49.0Z" fill="#444444"/><path d="M344.2 45.7 L344.5 47.1 L344.7 48.7 L344.8 50.3 L344.9 52.1 L344.9 53.9 L344.8 55.8 L344.8 57.9 L344.7 60.0 L344.7 62.3 L344.8 64.8 L344.8 67.6 L344.9 70.5 L345.1 73.5 L345.2 76.6 L345.3 79.7 L345.5 82.9 L345.6 86.0 L345.8 89.1 L346.0 92.1 L346.1 94.9 L346.2 97.5 L346.3 100.0 L346.4 102.3 L346.5 104.6 L346.6 106.9 L346.7 109.0 L346.8 111.2 L346.7 113.2 L346.4 115.2 L346.1 117.0" fill="none" stroke="#9c9c9c" stroke-width="0.6" opacity="0.8"/><path d="M350.0 45.7 L349.5 47.1 L349.0 48.7 L348.5 50.3 L348.2 52.1 L347.9 53.9 L347.8 55.8 L347.8 57.9 L347.7 60.0 L347.7 62.3 L347.8 64.8 L347.8 67.6 L347.9 70.5 L348.1 73.5 L348.2 76.6 L348.3 79.7 L348.5 82.9 L348.6 86.0 L348.8 89.1 L349.0 92.1 L349.1 94.9 L349.2 97.5 L349.3 100.0 L349.4 102.3 L349.5 104.6 L349.6 106.9 L349.7 109.0 L349.8 111.2 L350.0 113.2 L350.3 115.2 L350.7 117.0" fill="none" stroke="#9c9c9c" stroke-width="0.6" opacity="0.8"/><ellipse cx="350.25" cy="38.80" rx="8.22" ry="5.2" fill="#dedede"/><ellipse cx="351.85" cy="39.80" rx="2.10" ry="1.6" fill="#9a9a9a"/><ellipse cx="349.25" cy="45.80" rx="3.50" ry="3.5" fill="#9a9a9a"/><ellipse cx="349.00" cy="125.30" rx="5.12" ry="4" fill="#d6d6d6"/><ellipse cx="353.50" cy="122.80" rx="1.6" ry="2.2" fill="#222"/>
<g fill="#eaeaea" stroke="#eaeaea" stroke-width="1.9" stroke-linejoin="round"><path d="M365.0 34.8 L364.9 35.7 L364.9 36.8 L365.2 38.0 L365.7 39.5 L366.3 41.1 L367.0 42.9 L367.7 44.8 L368.4 46.8 L369.0 48.9 L369.4 51.0 L369.6 53.2 L369.6 55.4 L369.7 57.8 L369.7 60.1 L369.8 62.6 L370.0 65.3 L370.2 68.1 L370.5 71.1 L370.8 74.1 L371.1 77.2 L371.4 80.3 L371.7 83.5 L372.0 86.6 L372.2 89.6 L372.5 92.5 L372.7 95.2 L372.8 97.8 L372.9 100.1 L373.0 102.3 L372.9 104.4 L372.9 106.5 L372.8 108.6 L372.7 110.5 L372.3 112.4 L371.6 114.2 L370.7 115.8 L369.8 117.3 L368.9 118.7 L368.2 120.1 L367.8 121.3 L367.7 122.5 L367.6 123.5 L381.7 124.5 L381.8 123.6 L381.8 122.6 L381.6 121.4 L381.2 120.0 L380.6 118.4 L380.0 116.7 L379.4 114.8 L379.0 112.9 L378.9 110.9 L379.0 108.9 L379.1 106.7 L379.1 104.5 L379.1 102.2 L379.1 99.9 L379.0 97.4 L378.8 94.8 L378.6 92.0 L378.4 89.0 L378.1 86.0 L377.8 82.9 L377.5 79.8 L377.2 76.6 L376.9 73.5 L376.6 70.5 L376.4 67.6 L376.2 64.8 L376.0 62.3 L375.9 59.9 L375.8 57.6 L375.8 55.4 L375.8 53.3 L376.1 51.2 L376.7 49.1 L377.4 47.2 L378.3 45.4 L379.3 43.7 L380.2 42.1 L381.0 40.6 L381.7 39.2 L382.1 37.9 L382.3 36.6 L382.3 35.6Z"/><ellipse cx="375.15" cy="35.20" rx="9.45" ry="5.5"/><ellipse cx="375.15" cy="124.00" rx="7.85" ry="5.5"/></g><g fill="#6e6e6e"><path d="M365.0 34.8 L364.9 35.7 L364.9 36.8 L365.2 38.0 L365.7 39.5 L366.3 41.1 L367.0 42.9 L367.7 44.8 L368.4 46.8 L369.0 48.9 L369.4 51.0 L369.6 53.2 L369.6 55.4 L369.7 57.8 L369.7 60.1 L369.8 62.6 L370.0 65.3 L370.2 68.1 L370.5 71.1 L370.8 74.1 L371.1 77.2 L371.4 80.3 L371.7 83.5 L372.0 86.6 L372.2 89.6 L372.5 92.5 L372.7 95.2 L372.8 97.8 L372.9 100.1 L373.0 102.3 L372.9 104.4 L372.9 106.5 L372.8 108.6 L372.7 110.5 L372.3 112.4 L371.6 114.2 L370.7 115.8 L369.8 117.3 L368.9 118.7 L368.2 120.1 L367.8 121.3 L367.7 122.5 L367.6 123.5 L381.7 124.5 L381.8 123.6 L381.8 122.6 L381.6 121.4 L381.2 120.0 L380.6 118.4 L380.0 116.7 L379.4 114.8 L379.0 112.9 L378.9 110.9 L379.0 108.9 L379.1 106.7 L379.1 104.5 L379.1 102.2 L379.1 99.9 L379.0 97.4 L378.8 94.8 L378.6 92.0 L378.4 89.0 L378.1 86.0 L377.8 82.9 L377.5 79.8 L377.2 76.6 L376.9 73.5 L376.6 70.5 L376.4 67.6 L376.2 64.8 L376.0 62.3 L375.9 59.9 L375.8 57.6 L375.8 55.4 L375.8 53.3 L376.1 51.2 L376.7 49.1 L377.4 47.2 L378.3 45.4 L379.3 43.7 L380.2 42.1 L381.0 40.6 L381.7 39.2 L382.1 37.9 L382.3 36.6 L382.3 35.6Z"/><ellipse cx="375.15" cy="35.20" rx="9.45" ry="5.5"/><ellipse cx="375.15" cy="124.00" rx="7.85" ry="5.5"/></g><path d="M369.9 46.9 L370.5 48.9 L370.9 51.0 L371.1 53.2 L371.1 55.4 L371.2 57.7 L371.2 60.1 L371.3 62.5 L371.5 65.2 L371.7 68.0 L372.0 70.9 L372.3 74.0 L372.5 77.1 L372.9 80.2 L373.2 83.3 L373.4 86.4 L373.7 89.4 L374.0 92.3 L374.2 95.1 L374.3 97.7 L374.4 100.0 L374.5 102.3 L374.4 104.5 L374.4 106.6 L374.3 108.6 L374.2 110.7 L377.4 110.8 L377.5 108.8 L377.6 106.7 L377.6 104.5 L377.6 102.3 L377.6 100.0 L377.5 97.5 L377.3 94.9 L377.1 92.1 L376.9 89.2 L376.6 86.1 L376.3 83.0 L376.0 79.9 L375.7 76.8 L375.4 73.7 L375.1 70.6 L374.9 67.7 L374.7 64.9 L374.5 62.3 L374.4 59.9 L374.3 57.7 L374.3 55.4 L374.3 53.3 L374.6 51.1 L375.2 49.1 L375.9 47.1Z" fill="#444444"/><path d="M369.7 43.3 L370.0 45.1 L370.4 47.0 L370.7 49.0 L370.9 51.1 L371.0 53.2 L371.0 55.4 L371.0 57.7 L371.1 60.0 L371.2 62.4 L371.4 65.1 L371.6 67.9 L371.8 70.8 L372.1 73.8 L372.4 76.9 L372.7 80.0 L373.0 83.2 L373.3 86.3 L373.6 89.3 L373.8 92.2 L374.0 95.0 L374.2 97.6 L374.3 100.0 L374.3 102.3 L374.3 104.5 L374.3 106.6 L374.2 108.7 L374.1 110.7 L373.8 112.7 L373.3 114.5 L372.8 116.2" fill="none" stroke="#9c9c9c" stroke-width="0.6" opacity="0.8"/><path d="M375.8 43.3 L375.4 45.1 L374.9 47.0 L374.5 49.0 L374.2 51.1 L374.1 53.2 L374.1 55.4 L374.1 57.7 L374.2 60.0 L374.3 62.4 L374.4 65.1 L374.7 67.9 L374.9 70.8 L375.2 73.8 L375.5 76.9 L375.8 80.0 L376.1 83.2 L376.4 86.3 L376.7 89.3 L376.9 92.2 L377.1 95.0 L377.3 97.6 L377.4 100.0 L377.4 102.3 L377.4 104.5 L377.3 106.6 L377.3 108.7 L377.2 110.7 L377.2 112.7 L377.3 114.5 L377.4 116.2" fill="none" stroke="#9c9c9c" stroke-width="0.6" opacity="0.8"/><ellipse cx="375.65" cy="34.70" rx="8.88" ry="5.2" fill="#dedede"/><ellipse cx="377.42" cy="35.70" rx="2.27" ry="1.6" fill="#9a9a9a"/><ellipse cx="374.65" cy="41.70" rx="3.78" ry="3.5" fill="#9a9a9a"/><ellipse cx="374.65" cy="124.00" rx="5.02" ry="4" fill="#d6d6d6"/><ellipse cx="379.07" cy="121.50" rx="1.6" ry="2.2" fill="#222"/>
<g fill="#eaeaea" stroke="#eaeaea" stroke-width="1.9" stroke-linejoin="round"><path d="M390.4 43.4 L390.4 43.8 L390.4 44.3 L390.6 45.0 L390.9 45.8 L391.3 46.8 L391.8 47.8 L392.3 49.0 L392.8 50.3 L393.2 51.7 L393.6 53.2 L393.8 54.8 L393.9 56.5 L394.1 58.4 L394.3 60.4 L394.6 62.6 L395.0 65.1 L395.5 67.8 L396.0 70.6 L396.6 73.6 L397.2 76.8 L397.8 79.9 L398.4 83.1 L399.0 86.3 L399.6 89.4 L400.2 92.4 L400.7 95.3 L401.2 98.0 L401.6 100.5 L402.0 102.8 L402.3 105.1 L402.7 107.4 L403.0 109.7 L403.2 111.9 L403.3 114.1 L403.0 116.2 L402.6 118.2 L402.2 120.1 L401.7 121.9 L401.4 123.5 L401.3 124.9 L401.4 126.2 L401.6 127.3 L414.1 125.7 L414.0 124.7 L413.9 123.5 L413.5 122.1 L412.8 120.6 L412.0 119.0 L411.1 117.2 L410.2 115.3 L409.5 113.3 L409.0 111.2 L408.7 109.0 L408.4 106.7 L408.1 104.3 L407.7 101.9 L407.4 99.5 L406.9 97.0 L406.5 94.3 L405.9 91.4 L405.3 88.3 L404.7 85.2 L404.1 82.0 L403.5 78.8 L402.9 75.7 L402.3 72.6 L401.7 69.6 L401.2 66.8 L400.8 64.1 L400.4 61.7 L400.1 59.6 L399.9 57.8 L399.7 56.0 L399.6 54.5 L399.7 53.0 L400.0 51.7 L400.5 50.5 L401.1 49.5 L401.7 48.5 L402.3 47.7 L402.9 46.9 L403.3 46.1 L403.6 45.3 L403.7 44.4 L403.8 43.6Z"/><ellipse cx="398.25" cy="43.50" rx="7.25" ry="5.5"/><ellipse cx="408.35" cy="126.50" rx="7.05" ry="5.5"/></g><g fill="#6e6e6e"><path d="M390.4 43.4 L390.4 43.8 L390.4 44.3 L390.6 45.0 L390.9 45.8 L391.3 46.8 L391.8 47.8 L392.3 49.0 L392.8 50.3 L393.2 51.7 L393.6 53.2 L393.8 54.8 L393.9 56.5 L394.1 58.4 L394.3 60.4 L394.6 62.6 L395.0 65.1 L395.5 67.8 L396.0 70.6 L396.6 73.6 L397.2 76.8 L397.8 79.9 L398.4 83.1 L399.0 86.3 L399.6 89.4 L400.2 92.4 L400.7 95.3 L401.2 98.0 L401.6 100.5 L402.0 102.8 L402.3 105.1 L402.7 107.4 L403.0 109.7 L403.2 111.9 L403.3 114.1 L403.0 116.2 L402.6 118.2 L402.2 120.1 L401.7 121.9 L401.4 123.5 L401.3 124.9 L401.4 126.2 L401.6 127.3 L414.1 125.7 L414.0 124.7 L413.9 123.5 L413.5 122.1 L412.8 120.6 L412.0 119.0 L411.1 117.2 L410.2 115.3 L409.5 113.3 L409.0 111.2 L408.7 109.0 L408.4 106.7 L408.1 104.3 L407.7 101.9 L407.4 99.5 L406.9 97.0 L406.5 94.3 L405.9 91.4 L405.3 88.3 L404.7 85.2 L404.1 82.0 L403.5 78.8 L402.9 75.7 L402.3 72.6 L401.7 69.6 L401.2 66.8 L400.8 64.1 L400.4 61.7 L400.1 59.6 L399.9 57.8 L399.7 56.0 L399.6 54.5 L399.7 53.0 L400.0 51.7 L400.5 50.5 L401.1 49.5 L401.7 48.5 L402.3 47.7 L402.9 46.9 L403.3 46.1 L403.6 45.3 L403.7 44.4 L403.8 43.6Z"/><ellipse cx="398.25" cy="43.50" rx="7.25" ry="5.5"/><ellipse cx="408.35" cy="126.50" rx="7.05" ry="5.5"/></g><path d="M394.3 50.4 L394.7 51.7 L395.1 53.1 L395.3 54.7 L395.4 56.4 L395.6 58.2 L395.8 60.2 L396.1 62.4 L396.5 64.8 L397.0 67.5 L397.5 70.4 L398.1 73.4 L398.7 76.5 L399.3 79.6 L399.9 82.8 L400.5 86.0 L401.1 89.1 L401.7 92.2 L402.2 95.0 L402.7 97.7 L403.1 100.2 L403.5 102.6 L403.8 104.9 L404.1 107.2 L404.4 109.5 L404.7 111.7 L407.5 111.4 L407.2 109.1 L406.9 106.9 L406.6 104.5 L406.3 102.2 L405.9 99.8 L405.5 97.3 L405.0 94.5 L404.5 91.6 L403.9 88.6 L403.3 85.5 L402.7 82.3 L402.0 79.1 L401.4 75.9 L400.8 72.8 L400.3 69.9 L399.7 67.0 L399.3 64.4 L398.9 62.0 L398.6 59.8 L398.4 57.9 L398.2 56.2 L398.1 54.5 L398.2 53.1 L398.5 51.7 L399.0 50.5Z" fill="#444444"/><path d="M394.0 48.2 L394.2 49.2 L394.5 50.4 L394.7 51.7 L394.9 53.1 L395.1 54.6 L395.2 56.3 L395.3 58.1 L395.6 60.0 L395.9 62.2 L396.3 64.6 L396.7 67.3 L397.2 70.1 L397.8 73.1 L398.4 76.2 L399.0 79.4 L399.6 82.6 L400.3 85.7 L400.9 88.9 L401.4 91.9 L402.0 94.8 L402.5 97.5 L402.9 100.0 L403.2 102.4 L403.6 104.7 L403.9 107.0 L404.2 109.3 L404.5 111.5 L404.6 113.7 L404.6 115.8 L404.5 117.7" fill="none" stroke="#9c9c9c" stroke-width="0.6" opacity="0.8"/><path d="M398.9 48.2 L398.6 49.2 L398.3 50.4 L398.1 51.7 L398.0 53.1 L398.0 54.6 L398.1 56.3 L398.2 58.1 L398.5 60.0 L398.8 62.2 L399.2 64.6 L399.6 67.3 L400.2 70.1 L400.7 73.1 L401.3 76.2 L401.9 79.4 L402.5 82.6 L403.2 85.7 L403.8 88.9 L404.3 91.9 L404.9 94.8 L405.4 97.5 L405.8 100.0 L406.1 102.4 L406.5 104.7 L406.8 107.0 L407.1 109.3 L407.4 111.5 L407.8 113.7 L408.2 115.8 L408.7 117.7" fill="none" stroke="#9c9c9c" stroke-width="0.6" opacity="0.8"/><ellipse cx="398.75" cy="43.00" rx="6.81" ry="5.2" fill="#dedede"/><ellipse cx="399.99" cy="44.00" rx="1.74" ry="1.6" fill="#9a9a9a"/><ellipse cx="397.75" cy="50.00" rx="2.90" ry="3.5" fill="#9a9a9a"/><ellipse cx="407.85" cy="126.50" rx="4.51" ry="4" fill="#d6d6d6"/><ellipse cx="411.88" cy="124.00" rx="1.6" ry="2.2" fill="#222"/>
<g fill="#eaeaea" stroke="#eaeaea" stroke-width="1.9" stroke-linejoin="round"><path d="M422.1 33.1 L422.0 34.1 L422.0 35.3 L422.2 36.7 L422.5 38.3 L422.9 40.0 L423.4 41.9 L423.9 44.0 L424.4 46.1 L424.8 48.3 L425.1 50.6 L425.3 52.9 L425.3 55.3 L425.3 57.7 L425.3 60.1 L425.4 62.6 L425.6 65.3 L425.8 68.2 L426.0 71.1 L426.3 74.2 L426.6 77.3 L426.9 80.4 L427.2 83.5 L427.5 86.5 L427.7 89.5 L428.0 92.4 L428.2 95.1 L428.3 97.7 L428.4 100.1 L428.5 102.3 L428.5 104.6 L428.4 106.8 L428.3 108.9 L428.2 111.0 L427.8 113.0 L427.1 114.9 L426.2 116.6 L425.3 118.3 L424.4 119.8 L423.6 121.2 L423.2 122.5 L423.1 123.8 L423.0 124.8 L437.7 125.8 L437.7 124.8 L437.8 123.7 L437.6 122.4 L437.1 120.9 L436.5 119.2 L435.8 117.4 L435.2 115.4 L434.8 113.4 L434.6 111.3 L434.7 109.2 L434.8 106.9 L434.8 104.6 L434.8 102.3 L434.8 99.9 L434.7 97.4 L434.5 94.7 L434.3 91.9 L434.1 89.0 L433.8 86.0 L433.5 82.9 L433.2 79.8 L432.9 76.7 L432.6 73.6 L432.4 70.6 L432.1 67.7 L431.9 64.9 L431.8 62.3 L431.7 59.9 L431.6 57.6 L431.6 55.3 L431.7 53.0 L431.9 50.8 L432.4 48.6 L433.0 46.5 L433.7 44.5 L434.5 42.7 L435.2 40.9 L435.9 39.2 L436.5 37.7 L436.8 36.3 L437.0 35.0 L437.0 33.9Z"/><ellipse cx="430.85" cy="33.50" rx="8.15" ry="5.5"/><ellipse cx="430.85" cy="125.30" rx="8.15" ry="5.5"/></g><g fill="#6e6e6e"><path d="M422.1 33.1 L422.0 34.1 L422.0 35.3 L422.2 36.7 L422.5 38.3 L422.9 40.0 L423.4 41.9 L423.9 44.0 L424.4 46.1 L424.8 48.3 L425.1 50.6 L425.3 52.9 L425.3 55.3 L425.3 57.7 L425.3 60.1 L425.4 62.6 L425.6 65.3 L425.8 68.2 L426.0 71.1 L426.3 74.2 L426.6 77.3 L426.9 80.4 L427.2 83.5 L427.5 86.5 L427.7 89.5 L428.0 92.4 L428.2 95.1 L428.3 97.7 L428.4 100.1 L428.5 102.3 L428.5 104.6 L428.4 106.8 L428.3 108.9 L428.2 111.0 L427.8 113.0 L427.1 114.9 L426.2 116.6 L425.3 118.3 L424.4 119.8 L423.6 121.2 L423.2 122.5 L423.1 123.8 L423.0 124.8 L437.7 125.8 L437.7 124.8 L437.8 123.7 L437.6 122.4 L437.1 120.9 L436.5 119.2 L435.8 117.4 L435.2 115.4 L434.8 113.4 L434.6 111.3 L434.7 109.2 L434.8 106.9 L434.8 104.6 L434.8 102.3 L434.8 99.9 L434.7 97.4 L434.5 94.7 L434.3 91.9 L434.1 89.0 L433.8 86.0 L433.5 82.9 L433.2 79.8 L432.9 76.7 L432.6 73.6 L432.4 70.6 L432.1 67.7 L431.9 64.9 L431.8 62.3 L431.7 59.9 L431.6 57.6 L431.6 55.3 L431.7 53.0 L431.9 50.8 L432.4 48.6 L433.0 46.5 L433.7 44.5 L434.5 42.7 L435.2 40.9 L435.9 39.2 L436.5 37.7 L436.8 36.3 L437.0 35.0 L437.0 33.9Z"/><ellipse cx="430.85" cy="33.50" rx="8.15" ry="5.5"/><ellipse cx="430.85" cy="125.30" rx="8.15" ry="5.5"/></g><path d="M425.9 46.2 L426.3 48.4 L426.6 50.6 L426.8 52.9 L426.8 55.3 L426.8 57.6 L426.8 60.1 L426.9 62.6 L427.1 65.2 L427.3 68.1 L427.5 71.0 L427.8 74.0 L428.1 77.1 L428.4 80.2 L428.7 83.3 L429.0 86.4 L429.2 89.4 L429.5 92.3 L429.7 95.0 L429.8 97.6 L429.9 100.0 L430.0 102.3 L430.0 104.6 L429.9 106.8 L429.8 109.0 L429.7 111.1 L433.1 111.2 L433.2 109.1 L433.3 106.9 L433.3 104.6 L433.3 102.3 L433.3 100.0 L433.2 97.5 L433.0 94.8 L432.8 92.0 L432.6 89.1 L432.3 86.1 L432.0 83.0 L431.7 79.9 L431.4 76.8 L431.2 73.7 L430.9 70.7 L430.6 67.8 L430.4 65.0 L430.3 62.4 L430.2 59.9 L430.1 57.6 L430.1 55.3 L430.2 53.0 L430.4 50.7 L430.9 48.5 L431.5 46.4Z" fill="#444444"/><path d="M425.9 42.3 L426.1 44.2 L426.3 46.3 L426.5 48.5 L426.6 50.7 L426.7 53.0 L426.7 55.3 L426.7 57.6 L426.7 60.0 L426.8 62.5 L427.0 65.1 L427.2 67.9 L427.4 70.9 L427.7 73.9 L428.0 77.0 L428.3 80.1 L428.6 83.2 L428.9 86.2 L429.1 89.2 L429.4 92.2 L429.6 94.9 L429.7 97.6 L429.8 100.0 L429.9 102.3 L429.9 104.6 L429.8 106.9 L429.7 109.0 L429.6 111.2 L429.4 113.2 L428.9 115.2 L428.3 117.0" fill="none" stroke="#9c9c9c" stroke-width="0.6" opacity="0.8"/><path d="M431.4 42.3 L431.0 44.2 L430.6 46.3 L430.3 48.5 L430.0 50.7 L429.9 53.0 L429.8 55.3 L429.8 57.6 L429.9 60.0 L430.0 62.5 L430.2 65.1 L430.4 67.9 L430.6 70.9 L430.9 73.9 L431.2 77.0 L431.5 80.1 L431.8 83.2 L432.0 86.2 L432.3 89.2 L432.5 92.2 L432.7 94.9 L432.9 97.6 L433.0 100.0 L433.0 102.3 L433.0 104.6 L433.0 106.9 L432.9 109.0 L432.8 111.2 L432.8 113.2 L433.0 115.2 L433.1 117.0" fill="none" stroke="#9c9c9c" stroke-width="0.6" opacity="0.8"/><ellipse cx="431.35" cy="33.00" rx="7.66" ry="5.2" fill="#dedede"/><ellipse cx="432.81" cy="34.00" rx="1.96" ry="1.6" fill="#9a9a9a"/><ellipse cx="430.35" cy="40.00" rx="3.26" ry="3.5" fill="#9a9a9a"/><ellipse cx="430.35" cy="125.30" rx="5.22" ry="4" fill="#d6d6d6"/><ellipse cx="434.93" cy="122.80" rx="1.6" ry="2.2" fill="#222"/>
<g fill="#eaeaea" stroke="#eaeaea" stroke-width="1.9" stroke-linejoin="round"><path d="M440.8 35.0 L440.8 35.9 L440.8 37.0 L441.1 38.2 L441.5 39.7 L442.1 41.3 L442.8 43.1 L443.5 44.9 L444.1 46.9 L444.7 49.0 L445.1 51.1 L445.4 53.3 L445.4 55.5 L445.5 57.9 L445.7 60.2 L445.9 62.7 L446.2 65.4 L446.5 68.2 L446.9 71.2 L447.3 74.2 L447.8 77.3 L448.2 80.4 L448.7 83.5 L449.1 86.6 L449.5 89.6 L449.8 92.5 L450.1 95.2 L450.3 97.8 L450.5 100.1 L450.5 102.4 L450.5 104.5 L450.5 106.7 L450.3 108.8 L450.2 110.9 L449.7 112.8 L448.8 114.7 L447.8 116.4 L446.7 118.0 L445.7 119.4 L444.9 120.8 L444.4 122.2 L444.2 123.5 L444.1 124.6 L459.0 126.0 L459.1 125.2 L459.2 124.1 L459.1 122.8 L458.7 121.3 L458.1 119.5 L457.5 117.6 L456.9 115.6 L456.5 113.6 L456.4 111.4 L456.6 109.2 L456.7 107.0 L456.8 104.7 L456.8 102.3 L456.7 99.9 L456.6 97.3 L456.3 94.6 L456.0 91.8 L455.7 88.8 L455.3 85.8 L454.9 82.7 L454.4 79.5 L454.0 76.4 L453.5 73.3 L453.1 70.3 L452.7 67.4 L452.4 64.7 L452.1 62.1 L451.9 59.8 L451.8 57.5 L451.7 55.3 L451.7 53.2 L451.9 51.1 L452.3 49.1 L453.0 47.1 L453.8 45.3 L454.6 43.5 L455.4 41.9 L456.1 40.4 L456.7 39.0 L457.1 37.7 L457.2 36.4 L457.3 35.4Z"/><ellipse cx="450.45" cy="35.20" rx="8.95" ry="5.5"/><ellipse cx="452.05" cy="125.30" rx="8.35" ry="5.5"/></g><g fill="#6e6e6e"><path d="M440.8 35.0 L440.8 35.9 L440.8 37.0 L441.1 38.2 L441.5 39.7 L442.1 41.3 L442.8 43.1 L443.5 44.9 L444.1 46.9 L444.7 49.0 L445.1 51.1 L445.4 53.3 L445.4 55.5 L445.5 57.9 L445.7 60.2 L445.9 62.7 L446.2 65.4 L446.5 68.2 L446.9 71.2 L447.3 74.2 L447.8 77.3 L448.2 80.4 L448.7 83.5 L449.1 86.6 L449.5 89.6 L449.8 92.5 L450.1 95.2 L450.3 97.8 L450.5 100.1 L450.5 102.4 L450.5 104.5 L450.5 106.7 L450.3 108.8 L450.2 110.9 L449.7 112.8 L448.8 114.7 L447.8 116.4 L446.7 118.0 L445.7 119.4 L444.9 120.8 L444.4 122.2 L444.2 123.5 L444.1 124.6 L459.0 126.0 L459.1 125.2 L459.2 124.1 L459.1 122.8 L458.7 121.3 L458.1 119.5 L457.5 117.6 L456.9 115.6 L456.5 113.6 L456.4 111.4 L456.6 109.2 L456.7 107.0 L456.8 104.7 L456.8 102.3 L456.7 99.9 L456.6 97.3 L456.3 94.6 L456.0 91.8 L455.7 88.8 L455.3 85.8 L454.9 82.7 L454.4 79.5 L454.0 76.4 L453.5 73.3 L453.1 70.3 L452.7 67.4 L452.4 64.7 L452.1 62.1 L451.9 59.8 L451.8 57.5 L451.7 55.3 L451.7 53.2 L451.9 51.1 L452.3 49.1 L453.0 47.1 L453.8 45.3 L454.6 43.5 L455.4 41.9 L456.1 40.4 L456.7 39.0 L457.1 37.7 L457.2 36.4 L457.3 35.4Z"/><ellipse cx="450.45" cy="35.20" rx="8.95" ry="5.5"/><ellipse cx="452.05" cy="125.30" rx="8.35" ry="5.5"/></g><path d="M445.6 47.0 L446.2 49.0 L446.6 51.1 L446.9 53.3 L446.9 55.5 L447.0 57.8 L447.2 60.1 L447.4 62.6 L447.7 65.2 L448.0 68.0 L448.4 71.0 L448.8 74.0 L449.3 77.1 L449.7 80.2 L450.1 83.3 L450.6 86.4 L451.0 89.4 L451.3 92.3 L451.6 95.1 L451.8 97.7 L452.0 100.1 L452.0 102.3 L452.0 104.6 L452.0 106.8 L451.8 108.9 L451.7 111.0 L454.9 111.3 L455.1 109.1 L455.2 106.9 L455.3 104.6 L455.3 102.3 L455.2 99.9 L455.1 97.4 L454.8 94.8 L454.6 91.9 L454.2 89.0 L453.8 86.0 L453.4 82.9 L452.9 79.7 L452.5 76.6 L452.0 73.5 L451.6 70.5 L451.2 67.6 L450.9 64.9 L450.6 62.3 L450.4 59.9 L450.3 57.6 L450.2 55.4 L450.2 53.2 L450.4 51.1 L450.8 49.0 L451.5 47.1Z" fill="#444444"/><path d="M445.4 43.3 L445.7 45.1 L446.1 47.0 L446.4 49.0 L446.6 51.1 L446.8 53.2 L446.8 55.4 L446.9 57.7 L447.0 60.0 L447.3 62.4 L447.5 65.0 L447.9 67.8 L448.3 70.7 L448.7 73.8 L449.1 76.9 L449.6 80.0 L450.0 83.1 L450.4 86.2 L450.8 89.2 L451.2 92.1 L451.5 94.9 L451.7 97.6 L451.8 100.0 L451.9 102.3 L451.9 104.6 L451.8 106.9 L451.7 109.0 L451.5 111.2 L451.2 113.2 L450.6 115.2 L449.9 117.0" fill="none" stroke="#9c9c9c" stroke-width="0.6" opacity="0.8"/><path d="M451.3 43.3 L450.9 45.1 L450.5 47.0 L450.2 49.0 L450.0 51.1 L449.9 53.2 L449.9 55.4 L450.0 57.7 L450.2 60.0 L450.4 62.4 L450.7 65.0 L451.0 67.8 L451.4 70.7 L451.8 73.8 L452.2 76.9 L452.7 80.0 L453.1 83.1 L453.6 86.2 L454.0 89.2 L454.3 92.1 L454.6 94.9 L454.8 97.6 L455.0 100.0 L455.0 102.3 L455.0 104.6 L455.0 106.9 L454.8 109.0 L454.7 111.2 L454.6 113.2 L454.7 115.2 L454.8 117.0" fill="none" stroke="#9c9c9c" stroke-width="0.6" opacity="0.8"/><ellipse cx="450.95" cy="34.70" rx="8.41" ry="5.2" fill="#dedede"/><ellipse cx="452.60" cy="35.70" rx="2.15" ry="1.6" fill="#9a9a9a"/><ellipse cx="449.95" cy="41.70" rx="3.58" ry="3.5" fill="#9a9a9a"/><ellipse cx="451.55" cy="125.30" rx="5.34" ry="4" fill="#d6d6d6"/><ellipse cx="456.22" cy="122.80" rx="1.6" ry="2.2" fill="#222"/>
<g fill="#eaeaea" stroke="#eaeaea" stroke-width="1.9" stroke-linejoin="round"><path d="M468.4 38.4 L468.3 39.1 L468.2 39.8 L468.3 40.8 L468.4 42.0 L468.7 43.4 L468.9 44.8 L469.2 46.4 L469.5 48.1 L469.7 49.9 L469.8 51.7 L469.8 53.7 L469.7 55.7 L469.6 57.8 L469.5 60.0 L469.5 62.3 L469.6 64.9 L469.7 67.7 L469.9 70.6 L470.1 73.7 L470.3 76.8 L470.5 79.9 L470.7 83.1 L470.9 86.2 L471.1 89.2 L471.2 92.2 L471.3 95.0 L471.4 97.6 L471.4 100.0 L471.3 102.2 L471.2 104.4 L471.1 106.6 L470.9 108.7 L470.6 110.8 L470.1 112.8 L469.3 114.6 L468.3 116.3 L467.2 117.9 L466.2 119.4 L465.4 120.8 L464.9 122.1 L464.7 123.3 L464.5 124.4 L478.6 126.2 L478.7 125.3 L478.8 124.2 L478.7 122.9 L478.4 121.3 L477.9 119.6 L477.4 117.7 L476.9 115.7 L476.6 113.6 L476.6 111.5 L476.8 109.3 L477.0 107.1 L477.2 104.8 L477.3 102.4 L477.4 100.0 L477.4 97.5 L477.3 94.8 L477.2 91.9 L477.1 88.9 L476.9 85.8 L476.7 82.7 L476.5 79.5 L476.2 76.4 L476.0 73.3 L475.9 70.3 L475.7 67.4 L475.6 64.7 L475.5 62.2 L475.5 60.0 L475.5 58.0 L475.6 56.0 L475.8 54.2 L476.1 52.4 L476.7 50.8 L477.3 49.3 L478.1 47.9 L478.8 46.6 L479.6 45.4 L480.3 44.3 L480.9 43.2 L481.3 42.2 L481.6 41.1 L481.7 40.2Z"/><ellipse cx="476.20" cy="39.30" rx="7.30" ry="5.5"/><ellipse cx="472.05" cy="125.30" rx="7.85" ry="5.5"/></g><g fill="#6e6e6e"><path d="M468.4 38.4 L468.3 39.1 L468.2 39.8 L468.3 40.8 L468.4 42.0 L468.7 43.4 L468.9 44.8 L469.2 46.4 L469.5 48.1 L469.7 49.9 L469.8 51.7 L469.8 53.7 L469.7 55.7 L469.6 57.8 L469.5 60.0 L469.5 62.3 L469.6 64.9 L469.7 67.7 L469.9 70.6 L470.1 73.7 L470.3 76.8 L470.5 79.9 L470.7 83.1 L470.9 86.2 L471.1 89.2 L471.2 92.2 L471.3 95.0 L471.4 97.6 L471.4 100.0 L471.3 102.2 L471.2 104.4 L471.1 106.6 L470.9 108.7 L470.6 110.8 L470.1 112.8 L469.3 114.6 L468.3 116.3 L467.2 117.9 L466.2 119.4 L465.4 120.8 L464.9 122.1 L464.7 123.3 L464.5 124.4 L478.6 126.2 L478.7 125.3 L478.8 124.2 L478.7 122.9 L478.4 121.3 L477.9 119.6 L477.4 117.7 L476.9 115.7 L476.6 113.6 L476.6 111.5 L476.8 109.3 L477.0 107.1 L477.2 104.8 L477.3 102.4 L477.4 100.0 L477.4 97.5 L477.3 94.8 L477.2 91.9 L477.1 88.9 L476.9 85.8 L476.7 82.7 L476.5 79.5 L476.2 76.4 L476.0 73.3 L475.9 70.3 L475.7 67.4 L475.6 64.7 L475.5 62.2 L475.5 60.0 L475.5 58.0 L475.6 56.0 L475.8 54.2 L476.1 52.4 L476.7 50.8 L477.3 49.3 L478.1 47.9 L478.8 46.6 L479.6 45.4 L480.3 44.3 L480.9 43.2 L481.3 42.2 L481.6 41.1 L481.7 40.2Z"/><ellipse cx="476.20" cy="39.30" rx="7.30" ry="5.5"/><ellipse cx="472.05" cy="125.30" rx="7.85" ry="5.5"/></g><path d="M471.0 48.4 L471.2 50.1 L471.3 51.9 L471.3 53.8 L471.2 55.8 L471.1 57.8 L471.0 60.0 L471.0 62.3 L471.1 64.9 L471.2 67.6 L471.4 70.5 L471.5 73.6 L471.8 76.7 L472.0 79.8 L472.2 83.0 L472.4 86.1 L472.6 89.2 L472.7 92.1 L472.8 94.9 L472.9 97.6 L472.9 100.0 L472.8 102.3 L472.7 104.5 L472.6 106.7 L472.4 108.9 L472.1 111.0 L475.1 111.3 L475.3 109.2 L475.5 107.0 L475.7 104.7 L475.8 102.4 L475.9 100.0 L475.9 97.5 L475.8 94.8 L475.7 92.0 L475.6 89.0 L475.4 85.9 L475.2 82.8 L475.0 79.6 L474.8 76.5 L474.5 73.4 L474.4 70.4 L474.2 67.5 L474.1 64.8 L474.0 62.3 L474.0 60.0 L474.0 57.9 L474.1 55.9 L474.3 54.0 L474.6 52.3 L475.2 50.6 L475.8 49.0Z" fill="#444444"/><path d="M471.1 45.7 L471.1 47.1 L471.2 48.7 L471.2 50.3 L471.2 52.1 L471.1 53.9 L471.0 55.8 L470.9 57.9 L470.8 60.0 L470.8 62.3 L470.9 64.8 L471.0 67.6 L471.2 70.5 L471.4 73.5 L471.6 76.6 L471.8 79.7 L472.0 82.9 L472.2 86.0 L472.4 89.1 L472.5 92.1 L472.7 94.9 L472.7 97.5 L472.7 100.0 L472.7 102.3 L472.5 104.6 L472.4 106.9 L472.2 109.0 L471.9 111.2 L471.5 113.2 L470.9 115.2 L470.2 117.0" fill="none" stroke="#9c9c9c" stroke-width="0.6" opacity="0.8"/><path d="M476.1 45.7 L475.6 47.1 L475.1 48.7 L474.7 50.3 L474.4 52.1 L474.1 53.9 L474.0 55.8 L473.9 57.9 L473.8 60.0 L473.8 62.3 L473.9 64.8 L474.0 67.6 L474.2 70.5 L474.4 73.5 L474.6 76.6 L474.8 79.7 L475.0 82.9 L475.2 86.0 L475.4 89.1 L475.5 92.1 L475.7 94.9 L475.7 97.5 L475.7 100.0 L475.7 102.3 L475.5 104.6 L475.4 106.9 L475.2 109.0 L474.9 111.2 L474.8 113.2 L474.8 115.2 L474.8 117.0" fill="none" stroke="#9c9c9c" stroke-width="0.6" opacity="0.8"/><ellipse cx="476.70" cy="38.80" rx="6.86" ry="5.2" fill="#dedede"/><ellipse cx="477.95" cy="39.80" rx="1.75" ry="1.6" fill="#9a9a9a"/><ellipse cx="475.70" cy="45.80" rx="2.92" ry="3.5" fill="#9a9a9a"/><ellipse cx="471.55" cy="125.30" rx="5.02" ry="4" fill="#d6d6d6"/><ellipse cx="475.97" cy="122.80" rx="1.6" ry="2.2" fill="#222"/>
<g fill="#eaeaea" stroke="#eaeaea" stroke-width="1.9" stroke-linejoin="round"><path d="M315.6 175.9 L315.5 176.9 L315.5 178.1 L315.8 179.6 L316.3 181.3 L317.0 183.2 L317.7 185.3 L318.5 187.5 L319.2 189.8 L319.9 192.2 L320.3 194.7 L320.6 197.2 L320.6 199.9 L320.7 202.5 L320.8 205.2 L321.0 208.0 L321.3 211.0 L321.6 214.2 L322.0 217.5 L322.5 220.9 L322.9 224.3 L323.4 227.8 L323.9 231.2 L324.4 234.7 L324.8 238.0 L325.3 241.3 L325.6 244.5 L325.9 247.5 L326.2 250.3 L326.4 253.0 L326.5 255.7 L326.6 258.5 L326.7 261.2 L326.7 263.9 L326.4 266.5 L325.8 269.0 L324.9 271.4 L324.0 273.7 L323.2 275.8 L322.5 277.8 L322.1 279.6 L322.1 281.2 L322.1 282.5 L338.2 282.5 L338.2 281.2 L338.2 279.8 L337.9 278.0 L337.3 276.1 L336.5 273.9 L335.7 271.6 L334.9 269.1 L334.3 266.5 L333.9 263.8 L333.9 261.1 L333.8 258.3 L333.7 255.4 L333.6 252.6 L333.4 249.7 L333.2 246.8 L332.8 243.7 L332.5 240.4 L332.0 237.1 L331.6 233.7 L331.1 230.2 L330.6 226.8 L330.1 223.3 L329.7 219.9 L329.2 216.6 L328.8 213.4 L328.5 210.3 L328.2 207.4 L328.0 204.8 L327.9 202.3 L327.8 199.8 L327.8 197.3 L328.2 194.9 L328.8 192.6 L329.6 190.4 L330.6 188.3 L331.7 186.3 L332.7 184.4 L333.7 182.7 L334.4 181.1 L335.0 179.6 L335.2 178.1 L335.2 176.9Z"/><ellipse cx="327.10" cy="176.40" rx="10.70" ry="5.5"/><ellipse cx="330.65" cy="282.50" rx="8.95" ry="5.5"/></g><g fill="#6e6e6e"><path d="M315.6 175.9 L315.5 176.9 L315.5 178.1 L315.8 179.6 L316.3 181.3 L317.0 183.2 L317.7 185.3 L318.5 187.5 L319.2 189.8 L319.9 192.2 L320.3 194.7 L320.6 197.2 L320.6 199.9 L320.7 202.5 L320.8 205.2 L321.0 208.0 L321.3 211.0 L321.6 214.2 L322.0 217.5 L322.5 220.9 L322.9 224.3 L323.4 227.8 L323.9 231.2 L324.4 234.7 L324.8 238.0 L325.3 241.3 L325.6 244.5 L325.9 247.5 L326.2 250.3 L326.4 253.0 L326.5 255.7 L326.6 258.5 L326.7 261.2 L326.7 263.9 L326.4 266.5 L325.8 269.0 L324.9 271.4 L324.0 273.7 L323.2 275.8 L322.5 277.8 L322.1 279.6 L322.1 281.2 L322.1 282.5 L338.2 282.5 L338.2 281.2 L338.2 279.8 L337.9 278.0 L337.3 276.1 L336.5 273.9 L335.7 271.6 L334.9 269.1 L334.3 266.5 L333.9 263.8 L333.9 261.1 L333.8 258.3 L333.7 255.4 L333.6 252.6 L333.4 249.7 L333.2 246.8 L332.8 243.7 L332.5 240.4 L332.0 237.1 L331.6 233.7 L331.1 230.2 L330.6 226.8 L330.1 223.3 L329.7 219.9 L329.2 216.6 L328.8 213.4 L328.5 210.3 L328.2 207.4 L328.0 204.8 L327.9 202.3 L327.8 199.8 L327.8 197.3 L328.2 194.9 L328.8 192.6 L329.6 190.4 L330.6 188.3 L331.7 186.3 L332.7 184.4 L333.7 182.7 L334.4 181.1 L335.0 179.6 L335.2 178.1 L335.2 176.9Z"/><ellipse cx="327.10" cy="176.40" rx="10.70" ry="5.5"/><ellipse cx="330.65" cy="282.50" rx="8.95" ry="5.5"/></g><path d="M320.7 189.9 L321.4 192.3 L321.8 194.7 L322.1 197.3 L322.1 199.8 L322.2 202.5 L322.3 205.1 L322.5 207.9 L322.8 210.9 L323.1 214.0 L323.5 217.3 L324.0 220.7 L324.4 224.1 L324.9 227.6 L325.4 231.0 L325.9 234.5 L326.3 237.9 L326.8 241.1 L327.1 244.3 L327.4 247.3 L327.7 250.2 L327.9 252.9 L328.0 255.7 L328.1 258.4 L328.2 261.2 L328.2 263.9 L332.4 263.8 L332.4 261.1 L332.3 258.3 L332.2 255.5 L332.1 252.7 L331.9 249.8 L331.7 246.9 L331.3 243.8 L331.0 240.6 L330.5 237.3 L330.1 233.9 L329.6 230.4 L329.1 227.0 L328.6 223.5 L328.2 220.1 L327.7 216.8 L327.3 213.5 L327.0 210.5 L326.7 207.6 L326.5 204.9 L326.4 202.3 L326.3 199.8 L326.3 197.3 L326.7 194.9 L327.3 192.5 L328.1 190.3Z" fill="#444444"/><path d="M320.8 185.8 L321.1 187.9 L321.5 190.1 L321.8 192.4 L322.0 194.8 L322.2 197.3 L322.2 199.8 L322.2 202.4 L322.4 205.0 L322.6 207.7 L322.9 210.7 L323.2 213.8 L323.6 217.0 L324.0 220.4 L324.5 223.8 L325.0 227.3 L325.5 230.7 L326.0 234.2 L326.4 237.6 L326.8 240.9 L327.2 244.1 L327.5 247.1 L327.8 250.0 L328.0 252.8 L328.1 255.6 L328.2 258.4 L328.3 261.1 L328.3 263.9 L328.1 266.5 L327.8 269.1 L327.3 271.5" fill="none" stroke="#9c9c9c" stroke-width="0.6" opacity="0.8"/><path d="M327.8 185.8 L327.2 187.9 L326.7 190.1 L326.3 192.4 L326.0 194.8 L325.8 197.3 L325.8 199.8 L325.9 202.4 L326.0 205.0 L326.2 207.7 L326.5 210.7 L326.8 213.8 L327.2 217.0 L327.7 220.4 L328.1 223.8 L328.6 227.3 L329.1 230.7 L329.6 234.2 L330.0 237.6 L330.5 240.9 L330.8 244.1 L331.1 247.1 L331.4 250.0 L331.6 252.8 L331.7 255.6 L331.8 258.4 L331.9 261.1 L331.9 263.9 L332.1 266.5 L332.3 269.1 L332.7 271.5" fill="none" stroke="#9c9c9c" stroke-width="0.6" opacity="0.8"/><ellipse cx="327.60" cy="175.90" rx="10.06" ry="5.2" fill="#dedede"/><ellipse cx="329.67" cy="176.90" rx="2.57" ry="1.6" fill="#9a9a9a"/><ellipse cx="326.60" cy="182.90" rx="4.28" ry="3.5" fill="#9a9a9a"/><ellipse cx="330.15" cy="282.50" rx="5.73" ry="4" fill="#d6d6d6"/><ellipse cx="335.12" cy="280.00" rx="1.6" ry="2.2" fill="#222"/>
<g fill="#eaeaea" stroke="#eaeaea" stroke-width="1.9" stroke-linejoin="round"><path d="M344.4 182.2 L344.3 183.0 L344.3 183.9 L344.5 185.0 L344.9 186.2 L345.3 187.6 L345.7 189.1 L346.2 190.7 L346.7 192.4 L347.1 194.3 L347.4 196.2 L347.6 198.3 L347.6 200.5 L347.7 202.8 L347.8 205.2 L347.9 207.8 L348.1 210.6 L348.4 213.7 L348.7 216.9 L349.0 220.3 L349.3 223.7 L349.7 227.2 L350.0 230.7 L350.4 234.2 L350.7 237.7 L351.0 241.1 L351.2 244.3 L351.4 247.3 L351.6 250.1 L351.7 252.9 L351.7 255.6 L351.7 258.4 L351.7 261.1 L351.6 263.8 L351.2 266.4 L350.3 268.9 L349.2 271.3 L348.1 273.5 L347.0 275.6 L346.1 277.5 L345.6 279.3 L345.5 280.9 L345.5 282.2 L363.1 282.8 L363.2 281.5 L363.2 280.1 L362.9 278.3 L362.2 276.3 L361.3 274.1 L360.3 271.7 L359.5 269.2 L358.8 266.6 L358.5 263.9 L358.5 261.2 L358.6 258.4 L358.6 255.6 L358.5 252.7 L358.4 249.9 L358.3 246.9 L358.1 243.8 L357.8 240.5 L357.5 237.1 L357.2 233.6 L356.9 230.1 L356.5 226.5 L356.2 223.0 L355.8 219.6 L355.5 216.3 L355.2 213.1 L355.0 210.1 L354.8 207.3 L354.6 204.8 L354.5 202.5 L354.5 200.4 L354.5 198.3 L354.7 196.3 L355.1 194.5 L355.6 192.8 L356.2 191.2 L356.9 189.7 L357.5 188.3 L358.1 187.1 L358.6 185.9 L358.9 184.8 L359.0 183.7 L359.1 182.8Z"/><ellipse cx="353.00" cy="182.50" rx="8.00" ry="5.5"/><ellipse cx="354.80" cy="282.50" rx="9.80" ry="5.5"/></g><g fill="#6e6e6e"><path d="M344.4 182.2 L344.3 183.0 L344.3 183.9 L344.5 185.0 L344.9 186.2 L345.3 187.6 L345.7 189.1 L346.2 190.7 L346.7 192.4 L347.1 194.3 L347.4 196.2 L347.6 198.3 L347.6 200.5 L347.7 202.8 L347.8 205.2 L347.9 207.8 L348.1 210.6 L348.4 213.7 L348.7 216.9 L349.0 220.3 L349.3 223.7 L349.7 227.2 L350.0 230.7 L350.4 234.2 L350.7 237.7 L351.0 241.1 L351.2 244.3 L351.4 247.3 L351.6 250.1 L351.7 252.9 L351.7 255.6 L351.7 258.4 L351.7 261.1 L351.6 263.8 L351.2 266.4 L350.3 268.9 L349.2 271.3 L348.1 273.5 L347.0 275.6 L346.1 277.5 L345.6 279.3 L345.5 280.9 L345.5 282.2 L363.1 282.8 L363.2 281.5 L363.2 280.1 L362.9 278.3 L362.2 276.3 L361.3 274.1 L360.3 271.7 L359.5 269.2 L358.8 266.6 L358.5 263.9 L358.5 261.2 L358.6 258.4 L358.6 255.6 L358.5 252.7 L358.4 249.9 L358.3 246.9 L358.1 243.8 L357.8 240.5 L357.5 237.1 L357.2 233.6 L356.9 230.1 L356.5 226.5 L356.2 223.0 L355.8 219.6 L355.5 216.3 L355.2 213.1 L355.0 210.1 L354.8 207.3 L354.6 204.8 L354.5 202.5 L354.5 200.4 L354.5 198.3 L354.7 196.3 L355.1 194.5 L355.6 192.8 L356.2 191.2 L356.9 189.7 L357.5 188.3 L358.1 187.1 L358.6 185.9 L358.9 184.8 L359.0 183.7 L359.1 182.8Z"/><ellipse cx="353.00" cy="182.50" rx="8.00" ry="5.5"/><ellipse cx="354.80" cy="282.50" rx="9.80" ry="5.5"/></g><path d="M348.2 192.5 L348.6 194.3 L348.9 196.2 L349.1 198.3 L349.1 200.4 L349.2 202.7 L349.3 205.1 L349.4 207.7 L349.6 210.5 L349.9 213.5 L350.2 216.8 L350.5 220.1 L350.8 223.6 L351.2 227.1 L351.5 230.6 L351.9 234.1 L352.2 237.6 L352.5 240.9 L352.7 244.2 L352.9 247.2 L353.1 250.1 L353.2 252.8 L353.2 255.6 L353.2 258.4 L353.2 261.1 L353.1 263.8 L357.0 263.9 L357.0 261.2 L357.1 258.4 L357.1 255.6 L357.0 252.7 L356.9 249.9 L356.8 247.0 L356.6 243.9 L356.3 240.6 L356.0 237.2 L355.7 233.7 L355.4 230.2 L355.0 226.7 L354.7 223.2 L354.3 219.7 L354.0 216.4 L353.7 213.2 L353.5 210.2 L353.3 207.4 L353.1 204.9 L353.0 202.6 L353.0 200.4 L353.0 198.3 L353.2 196.3 L353.6 194.4 L354.1 192.7Z" fill="#444444"/><path d="M348.2 189.4 L348.4 190.9 L348.7 192.6 L348.9 194.4 L349.0 196.3 L349.1 198.3 L349.1 200.4 L349.2 202.6 L349.3 205.0 L349.4 207.6 L349.6 210.4 L349.9 213.4 L350.2 216.6 L350.5 219.9 L350.8 223.4 L351.2 226.9 L351.5 230.4 L351.9 233.9 L352.2 237.4 L352.5 240.8 L352.7 244.0 L352.9 247.1 L353.1 250.0 L353.2 252.8 L353.2 255.6 L353.2 258.4 L353.2 261.1 L353.1 263.9 L352.8 266.5 L352.3 269.1 L351.7 271.5" fill="none" stroke="#9c9c9c" stroke-width="0.6" opacity="0.8"/><path d="M353.8 189.4 L353.4 190.9 L353.1 192.6 L352.8 194.4 L352.6 196.3 L352.6 198.3 L352.6 200.4 L352.6 202.6 L352.7 205.0 L352.9 207.6 L353.1 210.4 L353.3 213.4 L353.6 216.6 L353.9 219.9 L354.3 223.4 L354.6 226.9 L355.0 230.4 L355.3 233.9 L355.6 237.4 L355.9 240.8 L356.2 244.0 L356.4 247.1 L356.5 250.0 L356.6 252.8 L356.6 255.6 L356.6 258.4 L356.6 261.1 L356.6 263.9 L356.7 266.5 L356.9 269.1 L357.2 271.5" fill="none" stroke="#9c9c9c" stroke-width="0.6" opacity="0.8"/><ellipse cx="353.50" cy="182.00" rx="7.52" ry="5.2" fill="#dedede"/><ellipse cx="354.92" cy="183.00" rx="1.92" ry="1.6" fill="#9a9a9a"/><ellipse cx="352.50" cy="189.00" rx="3.20" ry="3.5" fill="#9a9a9a"/><ellipse cx="354.30" cy="282.50" rx="6.27" ry="4" fill="#d6d6d6"/><ellipse cx="359.70" cy="280.00" rx="1.6" ry="2.2" fill="#222"/>
<g fill="#eaeaea" stroke="#eaeaea" stroke-width="1.9" stroke-linejoin="round"><path d="M382.4 180.6 L382.2 181.3 L382.1 182.1 L382.1 183.2 L382.2 184.5 L382.4 186.0 L382.6 187.7 L382.8 189.6 L383.0 191.5 L383.2 193.5 L383.2 195.6 L383.0 197.7 L382.6 199.9 L382.4 202.3 L382.1 204.7 L382.0 207.4 L381.9 210.3 L381.8 213.4 L381.8 216.6 L381.8 220.0 L381.9 223.5 L381.9 227.0 L382.0 230.6 L382.0 234.1 L382.1 237.5 L382.1 240.9 L382.0 244.0 L381.9 247.0 L381.8 249.8 L381.6 252.4 L381.4 255.1 L381.1 257.7 L380.8 260.3 L380.4 262.9 L379.6 265.3 L378.4 267.6 L377.0 269.7 L375.5 271.6 L374.0 273.4 L372.9 275.1 L372.1 276.8 L371.8 278.3 L371.6 279.6 L390.2 282.4 L390.3 281.2 L390.5 279.9 L390.4 278.2 L389.8 276.2 L389.1 274.0 L388.3 271.6 L387.6 269.1 L387.2 266.5 L387.2 263.9 L387.5 261.2 L387.8 258.5 L388.1 255.8 L388.4 253.0 L388.6 250.2 L388.7 247.3 L388.8 244.2 L388.8 240.9 L388.8 237.5 L388.8 234.0 L388.8 230.5 L388.7 226.9 L388.6 223.4 L388.6 220.0 L388.6 216.6 L388.6 213.4 L388.6 210.5 L388.7 207.7 L388.9 205.3 L389.1 203.0 L389.4 200.9 L389.7 198.9 L390.3 197.0 L391.0 195.3 L392.0 193.7 L393.1 192.3 L394.2 191.0 L395.2 189.9 L396.2 188.8 L397.0 187.7 L397.7 186.6 L398.1 185.4 L398.3 184.4Z"/><ellipse cx="391.80" cy="182.50" rx="8.90" ry="5.5"/><ellipse cx="381.40" cy="281.00" rx="10.40" ry="5.5"/></g><g fill="#6e6e6e"><path d="M382.4 180.6 L382.2 181.3 L382.1 182.1 L382.1 183.2 L382.2 184.5 L382.4 186.0 L382.6 187.7 L382.8 189.6 L383.0 191.5 L383.2 193.5 L383.2 195.6 L383.0 197.7 L382.6 199.9 L382.4 202.3 L382.1 204.7 L382.0 207.4 L381.9 210.3 L381.8 213.4 L381.8 216.6 L381.8 220.0 L381.9 223.5 L381.9 227.0 L382.0 230.6 L382.0 234.1 L382.1 237.5 L382.1 240.9 L382.0 244.0 L381.9 247.0 L381.8 249.8 L381.6 252.4 L381.4 255.1 L381.1 257.7 L380.8 260.3 L380.4 262.9 L379.6 265.3 L378.4 267.6 L377.0 269.7 L375.5 271.6 L374.0 273.4 L372.9 275.1 L372.1 276.8 L371.8 278.3 L371.6 279.6 L390.2 282.4 L390.3 281.2 L390.5 279.9 L390.4 278.2 L389.8 276.2 L389.1 274.0 L388.3 271.6 L387.6 269.1 L387.2 266.5 L387.2 263.9 L387.5 261.2 L387.8 258.5 L388.1 255.8 L388.4 253.0 L388.6 250.2 L388.7 247.3 L388.8 244.2 L388.8 240.9 L388.8 237.5 L388.8 234.0 L388.8 230.5 L388.7 226.9 L388.6 223.4 L388.6 220.0 L388.6 216.6 L388.6 213.4 L388.6 210.5 L388.7 207.7 L388.9 205.3 L389.1 203.0 L389.4 200.9 L389.7 198.9 L390.3 197.0 L391.0 195.3 L392.0 193.7 L393.1 192.3 L394.2 191.0 L395.2 189.9 L396.2 188.8 L397.0 187.7 L397.7 186.6 L398.1 185.4 L398.3 184.4Z"/><ellipse cx="391.80" cy="182.50" rx="8.90" ry="5.5"/><ellipse cx="381.40" cy="281.00" rx="10.40" ry="5.5"/></g><path d="M384.5 191.9 L384.6 193.8 L384.6 195.9 L384.5 198.0 L384.1 200.1 L383.8 202.4 L383.6 204.9 L383.5 207.5 L383.4 210.3 L383.3 213.4 L383.3 216.6 L383.3 220.0 L383.4 223.5 L383.4 227.0 L383.5 230.5 L383.5 234.1 L383.6 237.5 L383.6 240.9 L383.5 244.1 L383.4 247.1 L383.3 249.9 L383.1 252.6 L382.9 255.2 L382.6 257.9 L382.3 260.5 L381.9 263.1 L385.7 263.6 L386.0 261.0 L386.3 258.3 L386.6 255.6 L386.9 252.9 L387.1 250.1 L387.2 247.2 L387.3 244.1 L387.3 240.9 L387.3 237.5 L387.3 234.0 L387.3 230.5 L387.2 226.9 L387.1 223.4 L387.1 220.0 L387.1 216.6 L387.1 213.4 L387.1 210.4 L387.2 207.6 L387.4 205.1 L387.6 202.9 L387.9 200.7 L388.2 198.6 L388.8 196.7 L389.6 194.9 L390.6 193.3Z" fill="#444444"/><path d="M385.0 189.4 L385.0 190.9 L384.9 192.6 L384.8 194.4 L384.7 196.3 L384.4 198.3 L384.1 200.4 L383.8 202.6 L383.6 205.0 L383.5 207.6 L383.4 210.4 L383.3 213.4 L383.3 216.6 L383.3 220.0 L383.4 223.4 L383.4 227.0 L383.5 230.5 L383.5 234.0 L383.5 237.5 L383.5 240.9 L383.5 244.1 L383.4 247.2 L383.3 250.0 L383.1 252.7 L382.9 255.4 L382.6 258.1 L382.2 260.8 L381.9 263.4 L381.3 265.9 L380.4 268.3 L379.4 270.6" fill="none" stroke="#9c9c9c" stroke-width="0.6" opacity="0.8"/><path d="M391.0 189.4 L390.3 190.9 L389.6 192.6 L388.9 194.4 L388.3 196.3 L387.8 198.3 L387.5 200.4 L387.2 202.6 L387.0 205.0 L386.8 207.6 L386.7 210.4 L386.7 213.4 L386.7 216.6 L386.7 220.0 L386.8 223.4 L386.8 227.0 L386.9 230.5 L386.9 234.0 L386.9 237.5 L386.9 240.9 L386.9 244.1 L386.8 247.2 L386.7 250.0 L386.5 252.7 L386.2 255.4 L386.0 258.1 L385.6 260.8 L385.3 263.4 L385.1 265.9 L385.1 268.3 L385.2 270.6" fill="none" stroke="#9c9c9c" stroke-width="0.6" opacity="0.8"/><ellipse cx="392.30" cy="182.00" rx="8.37" ry="5.2" fill="#dedede"/><ellipse cx="393.94" cy="183.00" rx="2.14" ry="1.6" fill="#9a9a9a"/><ellipse cx="391.30" cy="189.00" rx="3.56" ry="3.5" fill="#9a9a9a"/><ellipse cx="380.90" cy="281.00" rx="6.66" ry="4" fill="#d6d6d6"/><ellipse cx="386.60" cy="278.50" rx="1.6" ry="2.2" fill="#222"/>
<g fill="#eaeaea" stroke="#eaeaea" stroke-width="1.9" stroke-linejoin="round"><path d="M408.7 186.4 L409.0 187.4 L409.4 188.5 L410.1 189.5 L411.0 190.4 L412.1 191.3 L413.3 192.2 L414.5 193.3 L415.7 194.5 L416.8 195.8 L417.6 197.4 L418.2 199.1 L418.5 201.0 L418.7 203.0 L418.9 205.2 L419.0 207.6 L419.1 210.3 L419.1 213.3 L419.2 216.4 L419.2 219.7 L419.1 223.1 L419.1 226.6 L419.0 230.2 L419.0 233.7 L418.9 237.2 L418.8 240.6 L418.7 243.9 L418.6 247.0 L418.6 249.9 L418.5 252.8 L418.4 255.6 L418.3 258.5 L418.2 261.4 L418.1 264.2 L417.7 267.0 L417.2 269.6 L416.5 272.2 L415.8 274.6 L415.1 276.8 L414.6 278.8 L414.3 280.7 L414.2 282.3 L414.1 283.7 L427.0 284.3 L427.0 282.9 L427.1 281.3 L427.0 279.5 L426.6 277.4 L426.2 275.1 L425.7 272.6 L425.3 270.0 L425.0 267.3 L424.9 264.5 L425.1 261.6 L425.2 258.8 L425.3 255.8 L425.4 252.9 L425.4 250.1 L425.5 247.1 L425.6 244.0 L425.6 240.7 L425.7 237.3 L425.8 233.8 L425.9 230.3 L425.9 226.7 L426.0 223.2 L426.0 219.8 L426.0 216.4 L426.0 213.2 L425.9 210.2 L425.8 207.4 L425.7 204.8 L425.5 202.4 L425.3 200.2 L425.0 198.0 L424.9 196.0 L425.1 194.0 L425.4 192.1 L425.8 190.3 L426.3 188.5 L426.7 186.9 L427.1 185.5 L427.4 184.2 L427.5 183.3 L427.4 182.6 L427.3 182.0Z"/><ellipse cx="419.65" cy="184.20" rx="10.35" ry="5.5"/><ellipse cx="421.05" cy="284.00" rx="7.15" ry="5.5"/></g><g fill="#6e6e6e"><path d="M408.7 186.4 L409.0 187.4 L409.4 188.5 L410.1 189.5 L411.0 190.4 L412.1 191.3 L413.3 192.2 L414.5 193.3 L415.7 194.5 L416.8 195.8 L417.6 197.4 L418.2 199.1 L418.5 201.0 L418.7 203.0 L418.9 205.2 L419.0 207.6 L419.1 210.3 L419.1 213.3 L419.2 216.4 L419.2 219.7 L419.1 223.1 L419.1 226.6 L419.0 230.2 L419.0 233.7 L418.9 237.2 L418.8 240.6 L418.7 243.9 L418.6 247.0 L418.6 249.9 L418.5 252.8 L418.4 255.6 L418.3 258.5 L418.2 261.4 L418.1 264.2 L417.7 267.0 L417.2 269.6 L416.5 272.2 L415.8 274.6 L415.1 276.8 L414.6 278.8 L414.3 280.7 L414.2 282.3 L414.1 283.7 L427.0 284.3 L427.0 282.9 L427.1 281.3 L427.0 279.5 L426.6 277.4 L426.2 275.1 L425.7 272.6 L425.3 270.0 L425.0 267.3 L424.9 264.5 L425.1 261.6 L425.2 258.8 L425.3 255.8 L425.4 252.9 L425.4 250.1 L425.5 247.1 L425.6 244.0 L425.6 240.7 L425.7 237.3 L425.8 233.8 L425.9 230.3 L425.9 226.7 L426.0 223.2 L426.0 219.8 L426.0 216.4 L426.0 213.2 L425.9 210.2 L425.8 207.4 L425.7 204.8 L425.5 202.4 L425.3 200.2 L425.0 198.0 L424.9 196.0 L425.1 194.0 L425.4 192.1 L425.8 190.3 L426.3 188.5 L426.7 186.9 L427.1 185.5 L427.4 184.2 L427.5 183.3 L427.4 182.6 L427.3 182.0Z"/><ellipse cx="419.65" cy="184.20" rx="10.35" ry="5.5"/><ellipse cx="421.05" cy="284.00" rx="7.15" ry="5.5"/></g><path d="M417.1 194.1 L418.2 195.5 L419.1 197.1 L419.7 198.9 L420.0 200.8 L420.2 202.9 L420.4 205.1 L420.5 207.6 L420.6 210.3 L420.6 213.3 L420.7 216.4 L420.7 219.7 L420.6 223.2 L420.6 226.6 L420.5 230.2 L420.5 233.7 L420.4 237.2 L420.3 240.6 L420.2 243.9 L420.1 247.0 L420.1 250.0 L420.0 252.8 L419.9 255.7 L419.8 258.6 L419.7 261.4 L419.6 264.3 L423.4 264.4 L423.6 261.6 L423.7 258.7 L423.8 255.8 L423.9 252.9 L423.9 250.0 L424.0 247.1 L424.1 244.0 L424.1 240.7 L424.2 237.3 L424.3 233.8 L424.4 230.2 L424.4 226.7 L424.5 223.2 L424.5 219.7 L424.5 216.4 L424.5 213.2 L424.4 210.2 L424.3 207.4 L424.2 204.9 L424.0 202.5 L423.8 200.3 L423.5 198.3 L423.5 196.3 L423.6 194.4 L424.0 192.5Z" fill="#444444"/><path d="M416.0 190.4 L416.9 191.8 L417.8 193.3 L418.5 194.9 L419.2 196.7 L419.7 198.6 L420.0 200.6 L420.2 202.7 L420.4 205.0 L420.5 207.5 L420.6 210.3 L420.6 213.2 L420.7 216.4 L420.7 219.7 L420.6 223.2 L420.6 226.7 L420.5 230.2 L420.5 233.7 L420.4 237.2 L420.3 240.6 L420.2 243.9 L420.1 247.1 L420.1 250.0 L420.0 252.8 L419.9 255.7 L419.8 258.6 L419.7 261.5 L419.6 264.3 L419.3 267.1 L419.0 269.8 L418.5 272.4" fill="none" stroke="#9c9c9c" stroke-width="0.6" opacity="0.8"/><path d="M422.7 190.4 L422.7 191.8 L422.7 193.3 L422.8 194.9 L422.9 196.7 L423.1 198.6 L423.4 200.6 L423.6 202.7 L423.8 205.0 L423.9 207.5 L424.0 210.3 L424.1 213.2 L424.1 216.4 L424.1 219.7 L424.1 223.2 L424.0 226.7 L424.0 230.2 L423.9 233.7 L423.8 237.2 L423.7 240.6 L423.7 243.9 L423.6 247.1 L423.5 250.0 L423.4 252.8 L423.3 255.7 L423.2 258.6 L423.1 261.5 L423.0 264.3 L423.0 267.1 L423.0 269.8 L423.2 272.4" fill="none" stroke="#9c9c9c" stroke-width="0.6" opacity="0.8"/><ellipse cx="420.15" cy="183.70" rx="9.73" ry="5.2" fill="#dedede"/><ellipse cx="422.13" cy="184.70" rx="2.48" ry="1.6" fill="#9a9a9a"/><ellipse cx="419.15" cy="190.70" rx="4.14" ry="3.5" fill="#9a9a9a"/><ellipse cx="420.55" cy="284.00" rx="4.58" ry="4" fill="#d6d6d6"/><ellipse cx="424.62" cy="281.50" rx="1.6" ry="2.2" fill="#222"/>
<g fill="#eaeaea" stroke="#eaeaea" stroke-width="1.9" stroke-linejoin="round"><path d="M432.9 182.7 L432.9 183.6 L433.0 184.6 L433.4 185.7 L433.9 186.9 L434.6 188.2 L435.3 189.6 L436.0 191.1 L436.8 192.7 L437.4 194.5 L437.8 196.3 L438.1 198.3 L438.1 200.4 L438.1 202.6 L438.1 205.0 L438.0 207.5 L437.9 210.2 L437.8 213.2 L437.7 216.4 L437.6 219.8 L437.4 223.2 L437.3 226.7 L437.1 230.3 L437.0 233.8 L436.9 237.3 L436.9 240.7 L436.9 244.0 L436.9 247.2 L437.0 250.1 L437.1 253.0 L437.3 255.9 L437.6 258.7 L438.0 261.6 L438.3 264.3 L438.3 267.1 L438.0 269.8 L437.4 272.4 L436.7 274.9 L436.1 277.2 L435.7 279.3 L435.6 281.1 L435.8 282.6 L436.0 283.8 L453.4 281.2 L453.2 279.9 L452.9 278.2 L452.2 276.5 L451.1 274.7 L449.8 272.7 L448.4 270.6 L447.0 268.4 L445.9 266.0 L445.1 263.4 L444.8 260.7 L444.5 258.0 L444.2 255.3 L444.0 252.6 L443.8 249.9 L443.7 247.1 L443.7 244.0 L443.7 240.8 L443.8 237.5 L443.9 234.0 L444.0 230.5 L444.1 227.0 L444.3 223.5 L444.4 220.1 L444.6 216.7 L444.7 213.5 L444.8 210.5 L444.9 207.6 L444.9 205.0 L444.9 202.7 L444.9 200.4 L445.0 198.3 L445.1 196.2 L445.5 194.3 L446.1 192.5 L446.7 190.8 L447.3 189.2 L448.0 187.7 L448.5 186.4 L449.0 185.1 L449.2 184.1 L449.3 183.1 L449.3 182.3Z"/><ellipse cx="442.50" cy="182.50" rx="8.90" ry="5.5"/><ellipse cx="445.20" cy="282.50" rx="9.80" ry="5.5"/></g><g fill="#6e6e6e"><path d="M432.9 182.7 L432.9 183.6 L433.0 184.6 L433.4 185.7 L433.9 186.9 L434.6 188.2 L435.3 189.6 L436.0 191.1 L436.8 192.7 L437.4 194.5 L437.8 196.3 L438.1 198.3 L438.1 200.4 L438.1 202.6 L438.1 205.0 L438.0 207.5 L437.9 210.2 L437.8 213.2 L437.7 216.4 L437.6 219.8 L437.4 223.2 L437.3 226.7 L437.1 230.3 L437.0 233.8 L436.9 237.3 L436.9 240.7 L436.9 244.0 L436.9 247.2 L437.0 250.1 L437.1 253.0 L437.3 255.9 L437.6 258.7 L438.0 261.6 L438.3 264.3 L438.3 267.1 L438.0 269.8 L437.4 272.4 L436.7 274.9 L436.1 277.2 L435.7 279.3 L435.6 281.1 L435.8 282.6 L436.0 283.8 L453.4 281.2 L453.2 279.9 L452.9 278.2 L452.2 276.5 L451.1 274.7 L449.8 272.7 L448.4 270.6 L447.0 268.4 L445.9 266.0 L445.1 263.4 L444.8 260.7 L444.5 258.0 L444.2 255.3 L444.0 252.6 L443.8 249.9 L443.7 247.1 L443.7 244.0 L443.7 240.8 L443.8 237.5 L443.9 234.0 L444.0 230.5 L444.1 227.0 L444.3 223.5 L444.4 220.1 L444.6 216.7 L444.7 213.5 L444.8 210.5 L444.9 207.6 L444.9 205.0 L444.9 202.7 L444.9 200.4 L445.0 198.3 L445.1 196.2 L445.5 194.3 L446.1 192.5 L446.7 190.8 L447.3 189.2 L448.0 187.7 L448.5 186.4 L449.0 185.1 L449.2 184.1 L449.3 183.1 L449.3 182.3Z"/><ellipse cx="442.50" cy="182.50" rx="8.90" ry="5.5"/><ellipse cx="445.20" cy="282.50" rx="9.80" ry="5.5"/></g><path d="M438.3 192.7 L438.9 194.4 L439.3 196.3 L439.6 198.3 L439.6 200.4 L439.6 202.6 L439.6 205.0 L439.5 207.5 L439.4 210.3 L439.3 213.3 L439.2 216.5 L439.1 219.8 L438.9 223.3 L438.8 226.8 L438.6 230.3 L438.5 233.9 L438.4 237.4 L438.4 240.8 L438.4 244.0 L438.4 247.2 L438.5 250.1 L438.6 252.9 L438.8 255.8 L439.1 258.6 L439.4 261.4 L439.8 264.1 L443.6 263.6 L443.3 260.9 L443.0 258.2 L442.7 255.4 L442.5 252.7 L442.3 249.9 L442.2 247.1 L442.2 244.0 L442.2 240.8 L442.3 237.4 L442.4 234.0 L442.5 230.5 L442.6 227.0 L442.8 223.4 L442.9 220.0 L443.1 216.7 L443.2 213.5 L443.3 210.4 L443.4 207.6 L443.4 205.0 L443.4 202.7 L443.4 200.4 L443.5 198.3 L443.6 196.2 L444.0 194.3 L444.6 192.5Z" fill="#444444"/><path d="M437.9 189.4 L438.4 190.9 L438.8 192.6 L439.2 194.4 L439.4 196.3 L439.6 198.3 L439.6 200.4 L439.6 202.6 L439.6 205.0 L439.5 207.6 L439.5 210.4 L439.3 213.4 L439.2 216.6 L439.1 219.9 L438.9 223.4 L438.8 226.9 L438.7 230.4 L438.5 233.9 L438.4 237.4 L438.4 240.8 L438.4 244.0 L438.4 247.1 L438.5 250.0 L438.6 252.8 L438.8 255.6 L439.1 258.4 L439.4 261.1 L439.8 263.9 L440.0 266.5 L439.9 269.1 L439.8 271.5" fill="none" stroke="#9c9c9c" stroke-width="0.6" opacity="0.8"/><path d="M444.0 189.4 L443.7 190.9 L443.5 192.6 L443.2 194.4 L443.1 196.3 L443.0 198.3 L443.0 200.4 L443.0 202.6 L443.0 205.0 L443.0 207.6 L442.9 210.4 L442.8 213.4 L442.6 216.6 L442.5 219.9 L442.4 223.4 L442.2 226.9 L442.1 230.4 L442.0 233.9 L441.9 237.4 L441.8 240.8 L441.8 244.0 L441.8 247.1 L441.9 250.0 L442.1 252.8 L442.3 255.6 L442.6 258.4 L442.9 261.1 L443.2 263.9 L443.8 266.5 L444.5 269.1 L445.3 271.5" fill="none" stroke="#9c9c9c" stroke-width="0.6" opacity="0.8"/><ellipse cx="443.00" cy="182.00" rx="8.37" ry="5.2" fill="#dedede"/><ellipse cx="444.64" cy="183.00" rx="2.14" ry="1.6" fill="#9a9a9a"/><ellipse cx="442.00" cy="189.00" rx="3.56" ry="3.5" fill="#9a9a9a"/><ellipse cx="444.70" cy="282.50" rx="6.27" ry="4" fill="#d6d6d6"/><ellipse cx="450.10" cy="280.00" rx="1.6" ry="2.2" fill="#222"/>
<g fill="#eaeaea" stroke="#eaeaea" stroke-width="1.9" stroke-linejoin="round"><path d="M464.0 183.6 L464.2 184.5 L464.4 185.6 L464.9 186.6 L465.5 187.8 L466.2 189.0 L467.0 190.3 L467.8 191.7 L468.6 193.3 L469.4 194.9 L470.0 196.7 L470.4 198.7 L470.7 200.8 L470.9 203.0 L471.1 205.3 L471.3 207.8 L471.5 210.6 L471.6 213.6 L471.8 216.8 L472.0 220.1 L472.1 223.5 L472.3 227.0 L472.5 230.6 L472.6 234.1 L472.8 237.6 L472.9 240.9 L473.1 244.2 L473.2 247.3 L473.4 250.2 L473.5 253.0 L473.7 255.8 L473.8 258.6 L473.9 261.3 L474.1 264.0 L474.1 266.7 L473.9 269.3 L473.7 271.7 L473.4 274.0 L473.1 276.2 L472.9 278.2 L472.9 279.9 L472.9 281.5 L473.0 282.8 L483.9 282.2 L483.8 280.9 L483.7 279.4 L483.5 277.6 L483.1 275.7 L482.6 273.6 L482.1 271.3 L481.6 268.9 L481.2 266.3 L480.9 263.7 L480.8 261.0 L480.7 258.2 L480.5 255.4 L480.4 252.6 L480.2 249.8 L480.1 247.0 L479.9 243.9 L479.8 240.6 L479.6 237.2 L479.5 233.8 L479.3 230.3 L479.2 226.7 L479.0 223.2 L478.8 219.8 L478.7 216.4 L478.5 213.2 L478.3 210.1 L478.1 207.3 L477.9 204.7 L477.7 202.3 L477.5 200.0 L477.2 197.9 L477.2 195.8 L477.2 193.8 L477.5 191.9 L477.7 190.1 L478.1 188.5 L478.4 186.9 L478.6 185.5 L478.8 184.2 L478.9 183.1 L478.8 182.2 L478.7 181.4Z"/><ellipse cx="472.65" cy="182.50" rx="8.05" ry="5.5"/><ellipse cx="478.95" cy="282.50" rx="6.05" ry="5.5"/></g><g fill="#6e6e6e"><path d="M464.0 183.6 L464.2 184.5 L464.4 185.6 L464.9 186.6 L465.5 187.8 L466.2 189.0 L467.0 190.3 L467.8 191.7 L468.6 193.3 L469.4 194.9 L470.0 196.7 L470.4 198.7 L470.7 200.8 L470.9 203.0 L471.1 205.3 L471.3 207.8 L471.5 210.6 L471.6 213.6 L471.8 216.8 L472.0 220.1 L472.1 223.5 L472.3 227.0 L472.5 230.6 L472.6 234.1 L472.8 237.6 L472.9 240.9 L473.1 244.2 L473.2 247.3 L473.4 250.2 L473.5 253.0 L473.7 255.8 L473.8 258.6 L473.9 261.3 L474.1 264.0 L474.1 266.7 L473.9 269.3 L473.7 271.7 L473.4 274.0 L473.1 276.2 L472.9 278.2 L472.9 279.9 L472.9 281.5 L473.0 282.8 L483.9 282.2 L483.8 280.9 L483.7 279.4 L483.5 277.6 L483.1 275.7 L482.6 273.6 L482.1 271.3 L481.6 268.9 L481.2 266.3 L480.9 263.7 L480.8 261.0 L480.7 258.2 L480.5 255.4 L480.4 252.6 L480.2 249.8 L480.1 247.0 L479.9 243.9 L479.8 240.6 L479.6 237.2 L479.5 233.8 L479.3 230.3 L479.2 226.7 L479.0 223.2 L478.8 219.8 L478.7 216.4 L478.5 213.2 L478.3 210.1 L478.1 207.3 L477.9 204.7 L477.7 202.3 L477.5 200.0 L477.2 197.9 L477.2 195.8 L477.2 193.8 L477.5 191.9 L477.7 190.1 L478.1 188.5 L478.4 186.9 L478.6 185.5 L478.8 184.2 L478.9 183.1 L478.8 182.2 L478.7 181.4Z"/><ellipse cx="472.65" cy="182.50" rx="8.05" ry="5.5"/><ellipse cx="478.95" cy="282.50" rx="6.05" ry="5.5"/></g><path d="M470.1 193.0 L470.9 194.7 L471.5 196.6 L471.9 198.5 L472.1 200.6 L472.4 202.8 L472.6 205.2 L472.8 207.7 L472.9 210.5 L473.1 213.5 L473.3 216.7 L473.5 220.0 L473.6 223.5 L473.8 227.0 L474.0 230.5 L474.1 234.0 L474.3 237.5 L474.4 240.9 L474.6 244.1 L474.7 247.2 L474.9 250.1 L475.0 252.9 L475.2 255.7 L475.3 258.5 L475.4 261.2 L475.6 264.0 L479.4 263.8 L479.3 261.0 L479.2 258.3 L479.0 255.5 L478.9 252.7 L478.7 249.9 L478.6 247.0 L478.4 243.9 L478.3 240.7 L478.1 237.3 L478.0 233.8 L477.8 230.3 L477.7 226.8 L477.5 223.3 L477.3 219.8 L477.2 216.5 L477.0 213.3 L476.8 210.2 L476.6 207.4 L476.4 204.8 L476.2 202.5 L476.0 200.2 L475.8 198.1 L475.7 196.0 L475.8 194.0 L476.0 192.2Z" fill="#444444"/><path d="M469.4 189.4 L470.0 190.9 L470.6 192.6 L471.1 194.4 L471.5 196.3 L471.9 198.3 L472.1 200.4 L472.4 202.6 L472.6 205.0 L472.8 207.6 L473.0 210.4 L473.1 213.4 L473.3 216.6 L473.5 219.9 L473.7 223.4 L473.8 226.9 L474.0 230.4 L474.1 233.9 L474.3 237.4 L474.4 240.8 L474.6 244.0 L474.7 247.1 L474.9 250.0 L475.0 252.8 L475.2 255.6 L475.3 258.4 L475.4 261.1 L475.6 263.9 L475.6 266.5 L475.6 269.1 L475.5 271.5" fill="none" stroke="#9c9c9c" stroke-width="0.6" opacity="0.8"/><path d="M475.0 189.4 L475.0 190.9 L475.0 192.6 L475.1 194.4 L475.2 196.3 L475.3 198.3 L475.6 200.4 L475.8 202.6 L476.0 205.0 L476.2 207.6 L476.4 210.4 L476.6 213.4 L476.7 216.6 L476.9 219.9 L477.1 223.4 L477.3 226.9 L477.4 230.4 L477.6 233.9 L477.7 237.4 L477.9 240.8 L478.0 244.0 L478.2 247.1 L478.3 250.0 L478.5 252.8 L478.6 255.6 L478.7 258.4 L478.9 261.1 L479.0 263.9 L479.2 266.5 L479.5 269.1 L479.8 271.5" fill="none" stroke="#9c9c9c" stroke-width="0.6" opacity="0.8"/><ellipse cx="473.15" cy="182.00" rx="7.57" ry="5.2" fill="#dedede"/><ellipse cx="474.58" cy="183.00" rx="1.93" ry="1.6" fill="#9a9a9a"/><ellipse cx="472.15" cy="189.00" rx="3.22" ry="3.5" fill="#9a9a9a"/><ellipse cx="478.45" cy="282.50" rx="3.87" ry="4" fill="#d6d6d6"/><ellipse cx="481.98" cy="280.00" rx="1.6" ry="2.2" fill="#222"/>
  </g>
  <g fill="#fff" text-anchor="middle">
    <text x="398.65" y="17.5" font-size="10.2" font-weight="bold" textLength="103.9" lengthAdjust="spacingAndGlyphs">Naïve No BMT (CD45.1)</text>
    <text x="362.65" y="147.7" font-size="9.3" textLength="20.7" lengthAdjust="spacingAndGlyphs">Male</text>
    <text x="429.2" y="147.7" font-size="9.3" textLength="30.6" lengthAdjust="spacingAndGlyphs">Female</text>
    <text x="406.7" y="163.4" font-size="9.8" font-weight="bold">5x10<tspan font-size="6" dy="-3.5">6</tspan><tspan dy="3.5"> BMT w/JAK2VF</tspan></text>
  </g>
  <g stroke="#fff" stroke-width="0.9" fill="#fff">
    <path d="M349.5 149.2V142"/><path d="M347.9 143.3L349.5 140.7L351.1 143.3Z" stroke="none"/>
    <path d="M375.6 141.2V148"/><path d="M374 146.7L375.6 149.3L377.2 146.7Z" stroke="none"/>
    <path d="M407.9 149V142"/><path d="M406.3 143.2L407.9 140.6L409.5 143.2Z" stroke="none"/>
    <path d="M450 141.2V148"/><path d="M448.4 146.7L450 149.3L451.6 146.7Z" stroke="none"/>
  </g>
</svg>

<div id="cap">
<div style="letter-spacing:0.153px"><b style="letter-spacing:0px">Figure 1: Characterization of BMT in MPN model.</b> A) Engraftment chimerism and select CBC values of JAK2VF Parental, naïve, and</div>
<div style="letter-spacing:0.259px">all BMT groups. Day=0 was birthdate (JAK2VF parental line) or day of BMT (10wks old.) The dotted line indicates 10wks which is</div>
<div style="letter-spacing:0.281px">the date of JAK2VF Parental BM harvest or 10wks post-BMT. B) X-ray images of extracted femurs of mice used in transcriptomic</div>
<div style="letter-spacing:0.181px">analysis. Males on left, females on right. Naïve age/sex-matched controls on top compared to 5e6 BMT on bottom.</div>
</div>
</body></html>
